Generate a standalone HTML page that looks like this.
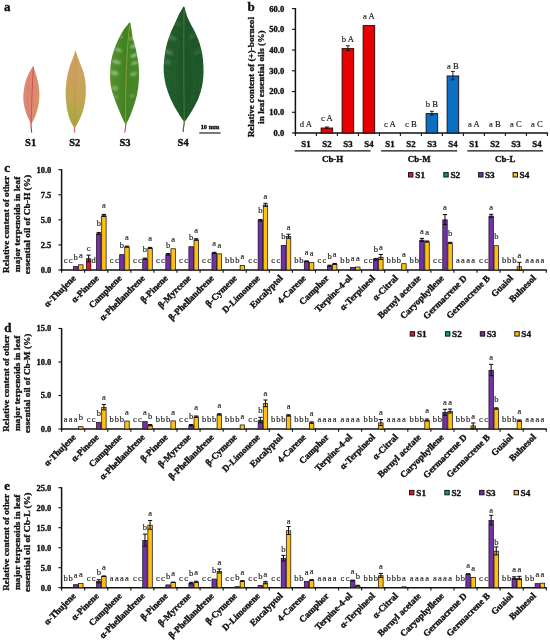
<!DOCTYPE html><html><head><meta charset="utf-8"><title>Figure</title><style>html,body{margin:0;padding:0;background:#fff}svg{display:block;filter:blur(0.35px);font-family:'Liberation Serif','Times New Roman',serif}</style></head><body>
<svg width="550" height="643" viewBox="0 0 550 643">
<rect width="550" height="643" fill="#fff"/>
<defs>
<linearGradient id="g1" x1="0" x2="1" y1="0" y2="0"><stop offset="0" stop-color="#d98a78"/><stop offset="0.45" stop-color="#de8572"/><stop offset="0.55" stop-color="#dd8a6c"/><stop offset="1" stop-color="#d49866"/></linearGradient>
<linearGradient id="g2" x1="0" x2="0" y1="0" y2="1"><stop offset="0" stop-color="#d2a05a"/><stop offset="0.35" stop-color="#c9a45c"/><stop offset="0.7" stop-color="#bfa650"/><stop offset="1" stop-color="#a8a83c"/></linearGradient>
<linearGradient id="g3" x1="0" x2="1" y1="0" y2="0"><stop offset="0" stop-color="#569230"/><stop offset="0.5" stop-color="#438322"/><stop offset="1" stop-color="#468828"/></linearGradient>
<linearGradient id="g4" x1="0" x2="1" y1="0" y2="0"><stop offset="0" stop-color="#246030"/><stop offset="0.5" stop-color="#1e5628"/><stop offset="1" stop-color="#205a2b"/></linearGradient>
<filter id="bl" x="-20%" y="-20%" width="140%" height="140%"><feGaussianBlur stdDeviation="1.1"/></filter>
<filter id="bl2" x="-20%" y="-20%" width="140%" height="140%"><feGaussianBlur stdDeviation="0.35"/></filter>
<clipPath id="cl1"><path d="M33.40,65.86 C33.75,66.40 34.08,68.72 34.55,70.27 C35.01,71.83 35.64,73.41 36.18,75.18 C36.73,76.96 37.36,78.86 37.82,80.91 C38.28,82.96 38.69,85.27 38.96,87.46 C39.24,89.64 39.43,91.82 39.46,94.00 C39.48,96.18 39.35,98.36 39.13,100.55 C38.91,102.73 38.64,104.91 38.15,107.09 C37.66,109.27 36.92,111.59 36.18,113.64 C35.45,115.68 34.60,117.65 33.73,119.37 C32.85,121.08 31.76,123.95 30.95,123.95 C30.13,123.95 29.58,121.08 28.82,119.37 C28.05,117.65 27.10,115.68 26.36,113.64 C25.63,111.59 24.89,109.27 24.40,107.09 C23.91,104.91 23.58,102.73 23.42,100.55 C23.25,98.36 23.28,96.18 23.42,94.00 C23.55,91.82 23.85,89.64 24.24,87.46 C24.62,85.27 25.08,82.96 25.71,80.91 C26.34,78.86 27.21,76.96 28.00,75.18 C28.79,73.41 29.72,71.64 30.45,70.27 C31.19,68.91 31.93,67.74 32.42,67.00 C32.91,66.26 33.05,65.31 33.40,65.86 Z"/></clipPath>
<clipPath id="cl2"><path d="M75.46,50.64 C76.06,50.77 76.66,54.32 77.42,56.36 C78.18,58.41 79.14,60.59 80.04,62.91 C80.94,65.23 82.03,67.82 82.82,70.27 C83.61,72.73 84.29,75.05 84.78,77.64 C85.27,80.23 85.60,83.09 85.77,85.82 C85.93,88.55 85.90,91.27 85.77,94.00 C85.63,96.73 85.38,99.46 84.95,102.18 C84.51,104.91 83.91,107.77 83.15,110.36 C82.38,112.96 81.37,115.41 80.36,117.73 C79.36,120.05 78.05,122.61 77.09,124.27 C76.14,125.94 75.46,127.71 74.64,127.71 C73.82,127.71 73.08,125.94 72.18,124.27 C71.28,122.61 70.06,120.05 69.24,117.73 C68.42,115.41 67.79,112.96 67.27,110.36 C66.76,107.77 66.40,104.91 66.13,102.18 C65.86,99.46 65.66,96.73 65.64,94.00 C65.61,91.27 65.75,88.55 65.96,85.82 C66.18,83.09 66.46,80.36 66.95,77.64 C67.44,74.91 68.17,72.05 68.91,69.46 C69.65,66.86 70.55,64.41 71.36,62.09 C72.18,59.77 73.14,57.45 73.82,55.55 C74.50,53.64 74.86,50.50 75.46,50.64 Z"/></clipPath>
<clipPath id="cl3"><path d="M129.85,22.54 C130.56,22.77 130.73,25.57 131.07,27.19 C131.41,28.80 131.57,30.39 131.88,32.24 C132.18,34.09 132.38,36.12 132.89,38.31 C133.39,40.50 134.24,42.69 134.91,45.38 C135.59,48.08 136.33,51.28 136.94,54.48 C137.54,57.68 138.22,61.22 138.55,64.59 C138.89,67.96 138.96,71.33 138.96,74.70 C138.96,78.07 138.89,81.44 138.55,84.81 C138.22,88.18 137.68,91.55 136.94,94.92 C136.19,98.29 135.18,101.66 134.10,105.03 C133.02,108.40 131.64,112.27 130.46,115.14 C129.28,118.00 127.80,120.66 127.02,122.21 C126.25,123.76 126.42,124.77 125.81,124.44 C125.20,124.10 124.46,122.41 123.38,120.19 C122.30,117.97 120.68,114.29 119.33,111.09 C117.99,107.89 116.54,104.35 115.29,100.98 C114.04,97.61 112.69,94.24 111.85,90.87 C111.01,87.50 110.50,84.13 110.23,80.76 C109.96,77.39 110.06,74.02 110.23,70.66 C110.40,67.29 110.64,63.92 111.24,60.55 C111.85,57.18 112.76,53.81 113.87,50.44 C114.98,47.07 116.43,43.53 117.92,40.33 C119.40,37.13 121.29,33.66 122.77,31.23 C124.26,28.80 125.64,27.22 126.82,25.77 C128.00,24.32 129.15,22.30 129.85,22.54 Z"/></clipPath>
<clipPath id="cl4"><path d="M183.99,6.53 C184.65,6.71 184.90,9.00 185.52,10.89 C186.14,12.77 186.79,15.60 187.70,17.85 C188.61,20.10 189.70,21.92 190.97,24.38 C192.24,26.85 193.87,29.47 195.33,32.66 C196.78,35.85 198.52,39.92 199.69,43.54 C200.85,47.17 201.68,50.80 202.30,54.43 C202.92,58.06 203.21,61.69 203.39,65.32 C203.57,68.95 203.65,72.57 203.39,76.20 C203.14,79.83 202.67,83.46 201.87,87.09 C201.07,90.72 200.05,94.35 198.60,97.98 C197.14,101.60 194.96,105.60 193.15,108.86 C191.33,112.13 189.15,115.47 187.70,117.57 C186.24,119.67 185.52,121.49 184.43,121.49 C183.34,121.49 182.61,119.67 181.16,117.57 C179.70,115.47 177.52,112.13 175.71,108.86 C173.89,105.60 171.82,101.60 170.26,97.98 C168.70,94.35 167.35,90.72 166.34,87.09 C165.32,83.46 164.59,79.83 164.16,76.20 C163.72,72.57 163.61,68.95 163.72,65.32 C163.83,61.69 164.26,58.06 164.81,54.43 C165.35,50.80 166.01,47.17 166.99,43.54 C167.97,39.92 169.42,35.92 170.69,32.66 C171.97,29.39 173.31,26.85 174.62,23.95 C175.93,21.05 177.38,17.60 178.54,15.24 C179.70,12.88 180.69,11.25 181.59,9.80 C182.50,8.35 183.34,6.35 183.99,6.53 Z"/></clipPath>
</defs>
<g filter="url(#bl2)">
<path d="M33.40,65.86 C33.75,66.40 34.08,68.72 34.55,70.27 C35.01,71.83 35.64,73.41 36.18,75.18 C36.73,76.96 37.36,78.86 37.82,80.91 C38.28,82.96 38.69,85.27 38.96,87.46 C39.24,89.64 39.43,91.82 39.46,94.00 C39.48,96.18 39.35,98.36 39.13,100.55 C38.91,102.73 38.64,104.91 38.15,107.09 C37.66,109.27 36.92,111.59 36.18,113.64 C35.45,115.68 34.60,117.65 33.73,119.37 C32.85,121.08 31.76,123.95 30.95,123.95 C30.13,123.95 29.58,121.08 28.82,119.37 C28.05,117.65 27.10,115.68 26.36,113.64 C25.63,111.59 24.89,109.27 24.40,107.09 C23.91,104.91 23.58,102.73 23.42,100.55 C23.25,98.36 23.28,96.18 23.42,94.00 C23.55,91.82 23.85,89.64 24.24,87.46 C24.62,85.27 25.08,82.96 25.71,80.91 C26.34,78.86 27.21,76.96 28.00,75.18 C28.79,73.41 29.72,71.64 30.45,70.27 C31.19,68.91 31.93,67.74 32.42,67.00 C32.91,66.26 33.05,65.31 33.40,65.86 Z" fill="url(#g1)"/>
<g clip-path="url(#cl1)">
<path d="M33.3,68 C32.4,85 31.4,105 31.2,124" fill="none" stroke="#d0485a" stroke-width="0.9"/>
<path d="M28.5,85 C26.8,98 27.5,112 30,120" fill="none" stroke="#d66a6c" stroke-width="0.5" opacity="0.7"/>
<path d="M35.5,80 C37.2,95 36,110 33,119" fill="none" stroke="#d6786a" stroke-width="0.5" opacity="0.6"/>
</g>
<path d="M31.1,123.4 C30.8,126 31.3,129.5 31.7,132.6" fill="none" stroke="#c6283e" stroke-width="1.1"/>
<path d="M75.46,50.64 C76.06,50.77 76.66,54.32 77.42,56.36 C78.18,58.41 79.14,60.59 80.04,62.91 C80.94,65.23 82.03,67.82 82.82,70.27 C83.61,72.73 84.29,75.05 84.78,77.64 C85.27,80.23 85.60,83.09 85.77,85.82 C85.93,88.55 85.90,91.27 85.77,94.00 C85.63,96.73 85.38,99.46 84.95,102.18 C84.51,104.91 83.91,107.77 83.15,110.36 C82.38,112.96 81.37,115.41 80.36,117.73 C79.36,120.05 78.05,122.61 77.09,124.27 C76.14,125.94 75.46,127.71 74.64,127.71 C73.82,127.71 73.08,125.94 72.18,124.27 C71.28,122.61 70.06,120.05 69.24,117.73 C68.42,115.41 67.79,112.96 67.27,110.36 C66.76,107.77 66.40,104.91 66.13,102.18 C65.86,99.46 65.66,96.73 65.64,94.00 C65.61,91.27 65.75,88.55 65.96,85.82 C66.18,83.09 66.46,80.36 66.95,77.64 C67.44,74.91 68.17,72.05 68.91,69.46 C69.65,66.86 70.55,64.41 71.36,62.09 C72.18,59.77 73.14,57.45 73.82,55.55 C74.50,53.64 74.86,50.50 75.46,50.64 Z" fill="url(#g2)"/>
<g clip-path="url(#cl2)">
<path d="M75.5,53 C75.6,80 75.2,105 74.7,127" fill="none" stroke="#cc8a50" stroke-width="0.7"/>
<ellipse cx="73" cy="76" rx="5" ry="14" fill="#d29a5c" opacity="0.5" filter="url(#bl)"/>
<ellipse cx="71" cy="114" rx="4" ry="10" fill="#a6ac3c" opacity="0.5" filter="url(#bl)"/>
</g>
<path d="M74.6,127 L74.6,132.6" fill="none" stroke="#cc5a48" stroke-width="1"/>
<path d="M129.85,22.54 C130.56,22.77 130.73,25.57 131.07,27.19 C131.41,28.80 131.57,30.39 131.88,32.24 C132.18,34.09 132.38,36.12 132.89,38.31 C133.39,40.50 134.24,42.69 134.91,45.38 C135.59,48.08 136.33,51.28 136.94,54.48 C137.54,57.68 138.22,61.22 138.55,64.59 C138.89,67.96 138.96,71.33 138.96,74.70 C138.96,78.07 138.89,81.44 138.55,84.81 C138.22,88.18 137.68,91.55 136.94,94.92 C136.19,98.29 135.18,101.66 134.10,105.03 C133.02,108.40 131.64,112.27 130.46,115.14 C129.28,118.00 127.80,120.66 127.02,122.21 C126.25,123.76 126.42,124.77 125.81,124.44 C125.20,124.10 124.46,122.41 123.38,120.19 C122.30,117.97 120.68,114.29 119.33,111.09 C117.99,107.89 116.54,104.35 115.29,100.98 C114.04,97.61 112.69,94.24 111.85,90.87 C111.01,87.50 110.50,84.13 110.23,80.76 C109.96,77.39 110.06,74.02 110.23,70.66 C110.40,67.29 110.64,63.92 111.24,60.55 C111.85,57.18 112.76,53.81 113.87,50.44 C114.98,47.07 116.43,43.53 117.92,40.33 C119.40,37.13 121.29,33.66 122.77,31.23 C124.26,28.80 125.64,27.22 126.82,25.77 C128.00,24.32 129.15,22.30 129.85,22.54 Z" fill="url(#g3)"/>
<g clip-path="url(#cl3)">
<ellipse cx="132.5" cy="38" rx="3.2" ry="1.5" transform="rotate(-25 132.5 38)" fill="#cfe3c4" opacity="0.55" filter="url(#bl)"/>
<ellipse cx="133.5" cy="46" rx="3.6" ry="1.6" transform="rotate(-25 133.5 46)" fill="#cfe3c4" opacity="0.6" filter="url(#bl)"/>
<ellipse cx="134" cy="55.5" rx="3.8" ry="1.7" transform="rotate(-22 134 55.5)" fill="#cfe3c4" opacity="0.6" filter="url(#bl)"/>
<ellipse cx="134.5" cy="63" rx="3.6" ry="1.6" transform="rotate(-20 134.5 63)" fill="#cfe3c4" opacity="0.55" filter="url(#bl)"/>
<ellipse cx="133.5" cy="74" rx="3.6" ry="1.8" transform="rotate(-20 133.5 74)" fill="#cfe3c4" opacity="0.5" filter="url(#bl)"/>
<ellipse cx="132" cy="96" rx="2.6" ry="1.8" transform="rotate(-20 132 96)" fill="#cfe3c4" opacity="0.3" filter="url(#bl)"/>
<ellipse cx="121" cy="36.5" rx="2.2" ry="1.3" transform="rotate(25 121 36.5)" fill="#cfe3c4" opacity="0.4" filter="url(#bl)"/>
<ellipse cx="118.5" cy="50" rx="3.6" ry="1.6" transform="rotate(20 118.5 50)" fill="#cfe3c4" opacity="0.55" filter="url(#bl)"/>
<ellipse cx="116.5" cy="62" rx="4.4" ry="1.8" transform="rotate(15 116.5 62)" fill="#cfe3c4" opacity="0.55" filter="url(#bl)"/>
<ellipse cx="114.5" cy="73" rx="4.0" ry="2.2" transform="rotate(10 114.5 73)" fill="#cfe3c4" opacity="0.5" filter="url(#bl)"/>
<ellipse cx="115" cy="88" rx="3.2" ry="2.6" transform="rotate(10 115 88)" fill="#cfe3c4" opacity="0.35" filter="url(#bl)"/>
<ellipse cx="116" cy="97" rx="2.4" ry="1.6" transform="rotate(10 116 97)" fill="#cfe3c4" opacity="0.3" filter="url(#bl)"/>
<path d="M129.6,26 C126.6,50 125.2,90 125.7,124" fill="none" stroke="#a8a848" stroke-width="0.7"/>
</g>
<path d="M125.8,123.6 C125.7,127 125.2,130 124.8,132.6" fill="none" stroke="#c0483c" stroke-width="1.1"/>
<path d="M183.99,6.53 C184.65,6.71 184.90,9.00 185.52,10.89 C186.14,12.77 186.79,15.60 187.70,17.85 C188.61,20.10 189.70,21.92 190.97,24.38 C192.24,26.85 193.87,29.47 195.33,32.66 C196.78,35.85 198.52,39.92 199.69,43.54 C200.85,47.17 201.68,50.80 202.30,54.43 C202.92,58.06 203.21,61.69 203.39,65.32 C203.57,68.95 203.65,72.57 203.39,76.20 C203.14,79.83 202.67,83.46 201.87,87.09 C201.07,90.72 200.05,94.35 198.60,97.98 C197.14,101.60 194.96,105.60 193.15,108.86 C191.33,112.13 189.15,115.47 187.70,117.57 C186.24,119.67 185.52,121.49 184.43,121.49 C183.34,121.49 182.61,119.67 181.16,117.57 C179.70,115.47 177.52,112.13 175.71,108.86 C173.89,105.60 171.82,101.60 170.26,97.98 C168.70,94.35 167.35,90.72 166.34,87.09 C165.32,83.46 164.59,79.83 164.16,76.20 C163.72,72.57 163.61,68.95 163.72,65.32 C163.83,61.69 164.26,58.06 164.81,54.43 C165.35,50.80 166.01,47.17 166.99,43.54 C167.97,39.92 169.42,35.92 170.69,32.66 C171.97,29.39 173.31,26.85 174.62,23.95 C175.93,21.05 177.38,17.60 178.54,15.24 C179.70,12.88 180.69,11.25 181.59,9.80 C182.50,8.35 183.34,6.35 183.99,6.53 Z" fill="url(#g4)"/>
<g clip-path="url(#cl4)">
<ellipse cx="172" cy="38" rx="5" ry="2.2" transform="rotate(30 172 38)" fill="#9fc0a0" opacity="0.28" filter="url(#bl)"/>
<ellipse cx="168.5" cy="52" rx="5" ry="2.6" transform="rotate(20 168.5 52)" fill="#9fc0a0" opacity="0.3" filter="url(#bl)"/>
<ellipse cx="167.5" cy="62" rx="4" ry="2.2" transform="rotate(10 167.5 62)" fill="#9fc0a0" opacity="0.25" filter="url(#bl)"/>
<ellipse cx="192" cy="36" rx="4" ry="1.8" transform="rotate(-30 192 36)" fill="#9fc0a0" opacity="0.18" filter="url(#bl)"/>
<ellipse cx="197" cy="52" rx="4" ry="2" transform="rotate(-25 197 52)" fill="#9fc0a0" opacity="0.16" filter="url(#bl)"/>
<ellipse cx="178" cy="24" rx="3" ry="1.6" transform="rotate(40 178 24)" fill="#9fc0a0" opacity="0.2" filter="url(#bl)"/>
<path d="M184,27 C190,24 197,21 206,17" fill="none" stroke="#1e4824" stroke-width="0.45" opacity="0.5"/>
<path d="M184,27 C178,24 171,21 162,17" fill="none" stroke="#1e4824" stroke-width="0.45" opacity="0.5"/>
<path d="M184,33 C190,30 197,27 206,23" fill="none" stroke="#1e4824" stroke-width="0.45" opacity="0.5"/>
<path d="M184,33 C178,30 171,27 162,23" fill="none" stroke="#1e4824" stroke-width="0.45" opacity="0.5"/>
<path d="M184,39 C190,36 197,33 206,29" fill="none" stroke="#1e4824" stroke-width="0.45" opacity="0.5"/>
<path d="M184,39 C178,36 171,33 162,29" fill="none" stroke="#1e4824" stroke-width="0.45" opacity="0.5"/>
<path d="M184,45 C190,42 197,39 206,35" fill="none" stroke="#1e4824" stroke-width="0.45" opacity="0.5"/>
<path d="M184,45 C178,42 171,39 162,35" fill="none" stroke="#1e4824" stroke-width="0.45" opacity="0.5"/>
<path d="M184,51 C190,48 197,45 206,41" fill="none" stroke="#1e4824" stroke-width="0.45" opacity="0.5"/>
<path d="M184,51 C178,48 171,45 162,41" fill="none" stroke="#1e4824" stroke-width="0.45" opacity="0.5"/>
<path d="M184,57 C190,54 197,51 206,47" fill="none" stroke="#1e4824" stroke-width="0.45" opacity="0.5"/>
<path d="M184,57 C178,54 171,51 162,47" fill="none" stroke="#1e4824" stroke-width="0.45" opacity="0.5"/>
<path d="M184,63 C190,60 197,57 206,53" fill="none" stroke="#1e4824" stroke-width="0.45" opacity="0.5"/>
<path d="M184,63 C178,60 171,57 162,53" fill="none" stroke="#1e4824" stroke-width="0.45" opacity="0.5"/>
<path d="M184,69 C190,66 197,63 206,59" fill="none" stroke="#1e4824" stroke-width="0.45" opacity="0.5"/>
<path d="M184,69 C178,66 171,63 162,59" fill="none" stroke="#1e4824" stroke-width="0.45" opacity="0.5"/>
<path d="M184,75 C190,72 197,69 206,65" fill="none" stroke="#1e4824" stroke-width="0.45" opacity="0.5"/>
<path d="M184,75 C178,72 171,69 162,65" fill="none" stroke="#1e4824" stroke-width="0.45" opacity="0.5"/>
<path d="M184,81 C190,78 197,75 206,71" fill="none" stroke="#1e4824" stroke-width="0.45" opacity="0.5"/>
<path d="M184,81 C178,78 171,75 162,71" fill="none" stroke="#1e4824" stroke-width="0.45" opacity="0.5"/>
<path d="M184,87 C190,84 197,81 206,77" fill="none" stroke="#1e4824" stroke-width="0.45" opacity="0.5"/>
<path d="M184,87 C178,84 171,81 162,77" fill="none" stroke="#1e4824" stroke-width="0.45" opacity="0.5"/>
<path d="M184,93 C190,90 197,87 206,83" fill="none" stroke="#1e4824" stroke-width="0.45" opacity="0.5"/>
<path d="M184,93 C178,90 171,87 162,83" fill="none" stroke="#1e4824" stroke-width="0.45" opacity="0.5"/>
<path d="M184,99 C190,96 197,93 206,89" fill="none" stroke="#1e4824" stroke-width="0.45" opacity="0.5"/>
<path d="M184,99 C178,96 171,93 162,89" fill="none" stroke="#1e4824" stroke-width="0.45" opacity="0.5"/>
<path d="M184,105 C190,102 197,99 206,95" fill="none" stroke="#1e4824" stroke-width="0.45" opacity="0.5"/>
<path d="M184,105 C178,102 171,99 162,95" fill="none" stroke="#1e4824" stroke-width="0.45" opacity="0.5"/>
<path d="M184,111 C190,108 197,105 206,101" fill="none" stroke="#1e4824" stroke-width="0.45" opacity="0.5"/>
<path d="M184,111 C178,108 171,105 162,101" fill="none" stroke="#1e4824" stroke-width="0.45" opacity="0.5"/>
<path d="M184,117 C190,114 197,111 206,107" fill="none" stroke="#1e4824" stroke-width="0.45" opacity="0.5"/>
<path d="M184,117 C178,114 171,111 162,107" fill="none" stroke="#1e4824" stroke-width="0.45" opacity="0.5"/>
<path d="M184,10 C183.6,50 183.8,90 184.3,121" fill="none" stroke="#748c44" stroke-width="0.6"/>
<path d="M180,40 C172,70 173,100 183.6,119" fill="none" stroke="#4e7a40" stroke-width="0.4" opacity="0.5"/>
<path d="M188,40 C197,70 196,100 185,119" fill="none" stroke="#4e7a40" stroke-width="0.4" opacity="0.5"/>
</g>
<path d="M184.3,120.6 C184.6,125 182.6,128 183.4,132" fill="none" stroke="#5c6a34" stroke-width="1.3"/>
</g>
<text x="30.60" y="146.30" font-size="10.5" font-weight="bold" text-anchor="middle" fill="#111" stroke="#111" stroke-width="0.36" >S1</text>
<text x="74.70" y="146.30" font-size="10.5" font-weight="bold" text-anchor="middle" fill="#111" stroke="#111" stroke-width="0.36" >S2</text>
<text x="125.00" y="146.30" font-size="10.5" font-weight="bold" text-anchor="middle" fill="#111" stroke="#111" stroke-width="0.36" >S3</text>
<text x="183.10" y="146.30" font-size="10.5" font-weight="bold" text-anchor="middle" fill="#111" stroke="#111" stroke-width="0.36" >S4</text>
<line x1="199.30" y1="133.00" x2="220.60" y2="133.00" stroke="#222" stroke-width="1.2"/>
<text x="210.00" y="128.70" font-size="6.4" font-weight="bold" text-anchor="middle" fill="#111" stroke="#111" stroke-width="0.36" >10 mm</text>
<text x="4.00" y="11.30" font-size="13" font-weight="bold" text-anchor="start" fill="#111" stroke="#111" stroke-width="0.36" >a</text>
<text x="247.60" y="11.30" font-size="13" font-weight="bold" text-anchor="start" fill="#111" stroke="#111" stroke-width="0.36" >b</text>
<line x1="295.40" y1="8.00" x2="295.40" y2="133.75" stroke="#111" stroke-width="1.5"/>
<line x1="294.65" y1="133.00" x2="547.90" y2="133.00" stroke="#111" stroke-width="1.5"/>
<line x1="292.00" y1="133.00" x2="295.40" y2="133.00" stroke="#111" stroke-width="1.1"/>
<text x="284.20" y="135.90" font-size="8.5" font-weight="bold" text-anchor="end" fill="#111" stroke="#111" stroke-width="0.36" >0.0</text>
<line x1="292.00" y1="112.27" x2="295.40" y2="112.27" stroke="#111" stroke-width="1.1"/>
<text x="284.20" y="115.17" font-size="8.5" font-weight="bold" text-anchor="end" fill="#111" stroke="#111" stroke-width="0.36" >10.0</text>
<line x1="292.00" y1="91.53" x2="295.40" y2="91.53" stroke="#111" stroke-width="1.1"/>
<text x="284.20" y="94.43" font-size="8.5" font-weight="bold" text-anchor="end" fill="#111" stroke="#111" stroke-width="0.36" >20.0</text>
<line x1="292.00" y1="70.80" x2="295.40" y2="70.80" stroke="#111" stroke-width="1.1"/>
<text x="284.20" y="73.70" font-size="8.5" font-weight="bold" text-anchor="end" fill="#111" stroke="#111" stroke-width="0.36" >30.0</text>
<line x1="292.00" y1="50.07" x2="295.40" y2="50.07" stroke="#111" stroke-width="1.1"/>
<text x="284.20" y="52.97" font-size="8.5" font-weight="bold" text-anchor="end" fill="#111" stroke="#111" stroke-width="0.36" >40.0</text>
<line x1="292.00" y1="29.33" x2="295.40" y2="29.33" stroke="#111" stroke-width="1.1"/>
<text x="284.20" y="32.23" font-size="8.5" font-weight="bold" text-anchor="end" fill="#111" stroke="#111" stroke-width="0.36" >50.0</text>
<line x1="292.00" y1="8.60" x2="295.40" y2="8.60" stroke="#111" stroke-width="1.1"/>
<text x="284.20" y="11.50" font-size="8.5" font-weight="bold" text-anchor="end" fill="#111" stroke="#111" stroke-width="0.36" >60.0</text>
<line x1="316.40" y1="133.00" x2="316.40" y2="135.90" stroke="#111" stroke-width="1.1"/>
<line x1="337.40" y1="133.00" x2="337.40" y2="135.90" stroke="#111" stroke-width="1.1"/>
<line x1="358.40" y1="133.00" x2="358.40" y2="135.90" stroke="#111" stroke-width="1.1"/>
<line x1="379.40" y1="133.00" x2="379.40" y2="135.90" stroke="#111" stroke-width="1.1"/>
<line x1="400.40" y1="133.00" x2="400.40" y2="135.90" stroke="#111" stroke-width="1.1"/>
<line x1="421.40" y1="133.00" x2="421.40" y2="135.90" stroke="#111" stroke-width="1.1"/>
<line x1="442.40" y1="133.00" x2="442.40" y2="135.90" stroke="#111" stroke-width="1.1"/>
<line x1="463.40" y1="133.00" x2="463.40" y2="135.90" stroke="#111" stroke-width="1.1"/>
<line x1="484.40" y1="133.00" x2="484.40" y2="135.90" stroke="#111" stroke-width="1.1"/>
<line x1="505.40" y1="133.00" x2="505.40" y2="135.90" stroke="#111" stroke-width="1.1"/>
<line x1="526.40" y1="133.00" x2="526.40" y2="135.90" stroke="#111" stroke-width="1.1"/>
<line x1="547.40" y1="133.00" x2="547.40" y2="135.90" stroke="#111" stroke-width="1.1"/>
<line x1="295.40" y1="133.00" x2="295.40" y2="135.90" stroke="#111" stroke-width="1.1"/>
<text transform="translate(253.70,77.20) rotate(-90)" font-size="9.25" font-weight="bold" text-anchor="middle" textLength="120.3" lengthAdjust="spacingAndGlyphs" fill="#111" stroke="#111" stroke-width="0.32">Relative content of (+)-borneol</text>
<text transform="translate(264.30,77.20) rotate(-90)" font-size="9.25" font-weight="bold" text-anchor="middle" textLength="93.4" lengthAdjust="spacingAndGlyphs" fill="#111" stroke="#111" stroke-width="0.32">in leaf essential oils (%)</text>
<text x="305.90" y="126.90" font-size="8.6" font-weight="normal" text-anchor="middle" fill="#1a1a1a" stroke="#1a1a1a" stroke-width="0.15" >d A</text>
<text x="305.90" y="146.80" font-size="8.8" font-weight="bold" text-anchor="middle" fill="#111" stroke="#111" stroke-width="0.36" >S1</text>
<rect x="321.10" y="128.01" width="11.60" height="4.99" fill="#e60000" stroke="#1c0a06" stroke-width="0.9"/>
<line x1="326.90" y1="126.99" x2="326.90" y2="128.23" stroke="#111" stroke-width="0.9"/>
<line x1="324.90" y1="126.99" x2="328.90" y2="126.99" stroke="#111" stroke-width="0.9"/>
<line x1="324.90" y1="128.23" x2="328.90" y2="128.23" stroke="#111" stroke-width="0.9"/>
<text x="326.90" y="120.99" font-size="8.6" font-weight="normal" text-anchor="middle" fill="#1a1a1a" stroke="#1a1a1a" stroke-width="0.15" >c A</text>
<text x="326.90" y="146.80" font-size="8.8" font-weight="bold" text-anchor="middle" fill="#111" stroke="#111" stroke-width="0.36" >S2</text>
<rect x="342.10" y="48.60" width="11.60" height="84.40" fill="#e60000" stroke="#1c0a06" stroke-width="0.9"/>
<line x1="347.90" y1="45.82" x2="347.90" y2="50.59" stroke="#111" stroke-width="0.9"/>
<line x1="345.90" y1="45.82" x2="349.90" y2="45.82" stroke="#111" stroke-width="0.9"/>
<line x1="345.90" y1="50.59" x2="349.90" y2="50.59" stroke="#111" stroke-width="0.9"/>
<text x="347.90" y="41.72" font-size="8.6" font-weight="normal" text-anchor="middle" fill="#1a1a1a" stroke="#1a1a1a" stroke-width="0.15" >b A</text>
<text x="347.90" y="146.80" font-size="8.8" font-weight="bold" text-anchor="middle" fill="#111" stroke="#111" stroke-width="0.36" >S3</text>
<rect x="363.10" y="25.59" width="11.60" height="107.41" fill="#e60000" stroke="#1c0a06" stroke-width="0.9"/>
<text x="368.90" y="19.19" font-size="8.6" font-weight="normal" text-anchor="middle" fill="#1a1a1a" stroke="#1a1a1a" stroke-width="0.15" >a A</text>
<text x="368.90" y="146.80" font-size="8.8" font-weight="bold" text-anchor="middle" fill="#111" stroke="#111" stroke-width="0.36" >S4</text>
<text x="389.90" y="126.90" font-size="8.6" font-weight="normal" text-anchor="middle" fill="#1a1a1a" stroke="#1a1a1a" stroke-width="0.15" >c A</text>
<text x="389.90" y="146.80" font-size="8.8" font-weight="bold" text-anchor="middle" fill="#111" stroke="#111" stroke-width="0.36" >S1</text>
<text x="410.90" y="126.90" font-size="8.6" font-weight="normal" text-anchor="middle" fill="#1a1a1a" stroke="#1a1a1a" stroke-width="0.15" >c B</text>
<text x="410.90" y="146.80" font-size="8.8" font-weight="bold" text-anchor="middle" fill="#111" stroke="#111" stroke-width="0.36" >S2</text>
<rect x="426.10" y="113.60" width="11.60" height="19.40" fill="#0b70c4" stroke="#1c0a06" stroke-width="0.9"/>
<line x1="431.90" y1="111.33" x2="431.90" y2="115.07" stroke="#111" stroke-width="0.9"/>
<line x1="429.90" y1="111.33" x2="433.90" y2="111.33" stroke="#111" stroke-width="0.9"/>
<line x1="429.90" y1="115.07" x2="433.90" y2="115.07" stroke="#111" stroke-width="0.9"/>
<text x="431.90" y="106.73" font-size="8.6" font-weight="normal" text-anchor="middle" fill="#1a1a1a" stroke="#1a1a1a" stroke-width="0.15" >b B</text>
<text x="431.90" y="146.80" font-size="8.8" font-weight="bold" text-anchor="middle" fill="#111" stroke="#111" stroke-width="0.36" >S3</text>
<rect x="447.10" y="75.97" width="11.60" height="57.03" fill="#0b70c4" stroke="#1c0a06" stroke-width="0.9"/>
<line x1="452.90" y1="71.42" x2="452.90" y2="79.72" stroke="#111" stroke-width="0.9"/>
<line x1="450.90" y1="71.42" x2="454.90" y2="71.42" stroke="#111" stroke-width="0.9"/>
<line x1="450.90" y1="79.72" x2="454.90" y2="79.72" stroke="#111" stroke-width="0.9"/>
<text x="452.90" y="69.22" font-size="8.6" font-weight="normal" text-anchor="middle" fill="#1a1a1a" stroke="#1a1a1a" stroke-width="0.15" >a B</text>
<text x="452.90" y="146.80" font-size="8.8" font-weight="bold" text-anchor="middle" fill="#111" stroke="#111" stroke-width="0.36" >S4</text>
<text x="473.90" y="126.90" font-size="8.6" font-weight="normal" text-anchor="middle" fill="#1a1a1a" stroke="#1a1a1a" stroke-width="0.15" >a A</text>
<text x="473.90" y="146.80" font-size="8.8" font-weight="bold" text-anchor="middle" fill="#111" stroke="#111" stroke-width="0.36" >S1</text>
<text x="494.90" y="126.90" font-size="8.6" font-weight="normal" text-anchor="middle" fill="#1a1a1a" stroke="#1a1a1a" stroke-width="0.15" >a B</text>
<text x="494.90" y="146.80" font-size="8.8" font-weight="bold" text-anchor="middle" fill="#111" stroke="#111" stroke-width="0.36" >S2</text>
<text x="515.90" y="126.90" font-size="8.6" font-weight="normal" text-anchor="middle" fill="#1a1a1a" stroke="#1a1a1a" stroke-width="0.15" >a C</text>
<text x="515.90" y="146.80" font-size="8.8" font-weight="bold" text-anchor="middle" fill="#111" stroke="#111" stroke-width="0.36" >S3</text>
<text x="536.90" y="126.90" font-size="8.6" font-weight="normal" text-anchor="middle" fill="#1a1a1a" stroke="#1a1a1a" stroke-width="0.15" >a C</text>
<text x="536.90" y="146.80" font-size="8.8" font-weight="bold" text-anchor="middle" fill="#111" stroke="#111" stroke-width="0.36" >S4</text>
<line x1="294.70" y1="150.90" x2="370.50" y2="150.90" stroke="#111" stroke-width="1.2"/>
<line x1="381.10" y1="150.90" x2="457.20" y2="150.90" stroke="#111" stroke-width="1.2"/>
<line x1="467.30" y1="150.90" x2="543.10" y2="150.90" stroke="#111" stroke-width="1.2"/>
<text x="332.60" y="161.60" font-size="8.9" font-weight="bold" text-anchor="middle" fill="#111" stroke="#111" stroke-width="0.36" >Cb-H</text>
<text x="419.20" y="161.60" font-size="8.9" font-weight="bold" text-anchor="middle" fill="#111" stroke="#111" stroke-width="0.36" >Cb-M</text>
<text x="505.20" y="161.60" font-size="8.9" font-weight="bold" text-anchor="middle" fill="#111" stroke="#111" stroke-width="0.36" >Cb-L</text>
<text x="4.30" y="171.50" font-size="13" font-weight="bold" text-anchor="start" fill="#111" stroke="#111" stroke-width="0.36" >c</text>
<line x1="61.60" y1="169.10" x2="61.60" y2="270.75" stroke="#111" stroke-width="1.5"/>
<line x1="60.85" y1="270.00" x2="546.78" y2="270.00" stroke="#111" stroke-width="1.5"/>
<line x1="58.40" y1="270.00" x2="61.60" y2="270.00" stroke="#111" stroke-width="1.1"/>
<text x="51.30" y="272.90" font-size="8.5" font-weight="bold" text-anchor="end" fill="#111" stroke="#111" stroke-width="0.36" >0.0</text>
<line x1="58.40" y1="244.93" x2="61.60" y2="244.93" stroke="#111" stroke-width="1.1"/>
<text x="51.30" y="247.83" font-size="8.5" font-weight="bold" text-anchor="end" fill="#111" stroke="#111" stroke-width="0.36" >2.5</text>
<line x1="58.40" y1="219.85" x2="61.60" y2="219.85" stroke="#111" stroke-width="1.1"/>
<text x="51.30" y="222.75" font-size="8.5" font-weight="bold" text-anchor="end" fill="#111" stroke="#111" stroke-width="0.36" >5.0</text>
<line x1="58.40" y1="194.77" x2="61.60" y2="194.77" stroke="#111" stroke-width="1.1"/>
<text x="51.30" y="197.67" font-size="8.5" font-weight="bold" text-anchor="end" fill="#111" stroke="#111" stroke-width="0.36" >7.5</text>
<line x1="58.40" y1="169.70" x2="61.60" y2="169.70" stroke="#111" stroke-width="1.1"/>
<text x="51.30" y="172.60" font-size="8.5" font-weight="bold" text-anchor="end" fill="#111" stroke="#111" stroke-width="0.36" >10.0</text>
<line x1="61.60" y1="270.00" x2="61.60" y2="272.70" stroke="#111" stroke-width="1.1"/>
<line x1="84.68" y1="270.00" x2="84.68" y2="272.70" stroke="#111" stroke-width="1.1"/>
<line x1="107.76" y1="270.00" x2="107.76" y2="272.70" stroke="#111" stroke-width="1.1"/>
<line x1="130.84" y1="270.00" x2="130.84" y2="272.70" stroke="#111" stroke-width="1.1"/>
<line x1="153.92" y1="270.00" x2="153.92" y2="272.70" stroke="#111" stroke-width="1.1"/>
<line x1="177.00" y1="270.00" x2="177.00" y2="272.70" stroke="#111" stroke-width="1.1"/>
<line x1="200.08" y1="270.00" x2="200.08" y2="272.70" stroke="#111" stroke-width="1.1"/>
<line x1="223.16" y1="270.00" x2="223.16" y2="272.70" stroke="#111" stroke-width="1.1"/>
<line x1="246.24" y1="270.00" x2="246.24" y2="272.70" stroke="#111" stroke-width="1.1"/>
<line x1="269.32" y1="270.00" x2="269.32" y2="272.70" stroke="#111" stroke-width="1.1"/>
<line x1="292.40" y1="270.00" x2="292.40" y2="272.70" stroke="#111" stroke-width="1.1"/>
<line x1="315.48" y1="270.00" x2="315.48" y2="272.70" stroke="#111" stroke-width="1.1"/>
<line x1="338.56" y1="270.00" x2="338.56" y2="272.70" stroke="#111" stroke-width="1.1"/>
<line x1="361.64" y1="270.00" x2="361.64" y2="272.70" stroke="#111" stroke-width="1.1"/>
<line x1="384.72" y1="270.00" x2="384.72" y2="272.70" stroke="#111" stroke-width="1.1"/>
<line x1="407.80" y1="270.00" x2="407.80" y2="272.70" stroke="#111" stroke-width="1.1"/>
<line x1="430.88" y1="270.00" x2="430.88" y2="272.70" stroke="#111" stroke-width="1.1"/>
<line x1="453.96" y1="270.00" x2="453.96" y2="272.70" stroke="#111" stroke-width="1.1"/>
<line x1="477.04" y1="270.00" x2="477.04" y2="272.70" stroke="#111" stroke-width="1.1"/>
<line x1="500.12" y1="270.00" x2="500.12" y2="272.70" stroke="#111" stroke-width="1.1"/>
<line x1="523.20" y1="270.00" x2="523.20" y2="272.70" stroke="#111" stroke-width="1.1"/>
<line x1="546.28" y1="270.00" x2="546.28" y2="272.70" stroke="#111" stroke-width="1.1"/>
<text transform="translate(9.30,224.45) rotate(-90)" font-size="9.25" font-weight="bold" text-anchor="middle" textLength="97.0" lengthAdjust="spacingAndGlyphs" fill="#111" stroke="#111" stroke-width="0.32">Relative content of other</text>
<text transform="translate(19.70,224.45) rotate(-90)" font-size="9.25" font-weight="bold" text-anchor="middle" textLength="95.4" lengthAdjust="spacingAndGlyphs" fill="#111" stroke="#111" stroke-width="0.32">major terpenoids in leaf</text>
<text transform="translate(30.10,224.45) rotate(-90)" font-size="9.25" font-weight="bold" text-anchor="middle" textLength="99.4" lengthAdjust="spacingAndGlyphs" fill="#111" stroke="#111" stroke-width="0.32">essential oil of Cb-H (%)</text>
<text x="65.53" y="263.20" font-size="8.5" font-weight="normal" text-anchor="middle" fill="#1a1a1a" stroke="#1a1a1a" stroke-width="0.15" >c</text>
<text x="70.62" y="263.20" font-size="8.5" font-weight="normal" text-anchor="middle" fill="#1a1a1a" stroke="#1a1a1a" stroke-width="0.15" >c</text>
<rect x="73.50" y="266.59" width="4.45" height="3.41" fill="#7232a4" stroke="#1a1020" stroke-width="0.75"/>
<text x="75.73" y="260.29" font-size="8.5" font-weight="normal" text-anchor="middle" fill="#1a1a1a" stroke="#1a1a1a" stroke-width="0.15" >b</text>
<rect x="78.60" y="264.78" width="4.45" height="5.22" fill="#ffc20a" stroke="#1a1020" stroke-width="0.75"/>
<text x="80.83" y="258.48" font-size="8.5" font-weight="normal" text-anchor="middle" fill="#1a1a1a" stroke="#1a1a1a" stroke-width="0.15" >a</text>
<text transform="translate(76.34,278.80) rotate(-45)" font-size="9.2" font-weight="bold" text-anchor="end" fill="#111" stroke="#111" stroke-width="0.36">α-Thujene</text>
<rect x="86.38" y="258.77" width="4.45" height="11.23" fill="#e8141c" stroke="#1a1020" stroke-width="0.75"/>
<line x1="88.61" y1="255.16" x2="88.61" y2="261.78" stroke="#111" stroke-width="1.05"/>
<line x1="86.51" y1="255.16" x2="90.71" y2="255.16" stroke="#111" stroke-width="1.05"/>
<line x1="86.51" y1="261.78" x2="90.71" y2="261.78" stroke="#111" stroke-width="1.05"/>
<text x="88.61" y="250.76" font-size="8.5" font-weight="normal" text-anchor="middle" fill="#1a1a1a" stroke="#1a1a1a" stroke-width="0.15" >c</text>
<text x="93.71" y="263.20" font-size="8.5" font-weight="normal" text-anchor="middle" fill="#1a1a1a" stroke="#1a1a1a" stroke-width="0.15" >d</text>
<rect x="96.58" y="233.79" width="4.45" height="36.21" fill="#7232a4" stroke="#1a1020" stroke-width="0.75"/>
<line x1="98.81" y1="232.49" x2="98.81" y2="234.49" stroke="#111" stroke-width="1.05"/>
<line x1="96.71" y1="232.49" x2="100.91" y2="232.49" stroke="#111" stroke-width="1.05"/>
<line x1="96.71" y1="234.49" x2="100.91" y2="234.49" stroke="#111" stroke-width="1.05"/>
<text x="98.81" y="226.49" font-size="8.5" font-weight="normal" text-anchor="middle" fill="#1a1a1a" stroke="#1a1a1a" stroke-width="0.15" >b</text>
<rect x="101.68" y="215.74" width="4.45" height="54.26" fill="#ffc20a" stroke="#1a1020" stroke-width="0.75"/>
<line x1="103.91" y1="214.43" x2="103.91" y2="216.44" stroke="#111" stroke-width="1.05"/>
<line x1="101.81" y1="214.43" x2="106.01" y2="214.43" stroke="#111" stroke-width="1.05"/>
<line x1="101.81" y1="216.44" x2="106.01" y2="216.44" stroke="#111" stroke-width="1.05"/>
<text x="103.91" y="208.43" font-size="8.5" font-weight="normal" text-anchor="middle" fill="#1a1a1a" stroke="#1a1a1a" stroke-width="0.15" >a</text>
<text transform="translate(99.35,278.80) rotate(-45)" font-size="9.2" font-weight="bold" text-anchor="end" fill="#111" stroke="#111" stroke-width="0.36">α-Pinene</text>
<text x="111.69" y="263.20" font-size="8.5" font-weight="normal" text-anchor="middle" fill="#1a1a1a" stroke="#1a1a1a" stroke-width="0.15" >c</text>
<text x="116.78" y="263.20" font-size="8.5" font-weight="normal" text-anchor="middle" fill="#1a1a1a" stroke="#1a1a1a" stroke-width="0.15" >c</text>
<rect x="119.66" y="254.65" width="4.45" height="15.35" fill="#7232a4" stroke="#1a1020" stroke-width="0.75"/>
<text x="121.89" y="248.35" font-size="8.5" font-weight="normal" text-anchor="middle" fill="#1a1a1a" stroke="#1a1a1a" stroke-width="0.15" >b</text>
<rect x="124.76" y="246.93" width="4.45" height="23.07" fill="#ffc20a" stroke="#1a1020" stroke-width="0.75"/>
<line x1="126.98" y1="246.13" x2="126.98" y2="247.13" stroke="#111" stroke-width="1.05"/>
<line x1="124.89" y1="246.13" x2="129.09" y2="246.13" stroke="#111" stroke-width="1.05"/>
<line x1="124.89" y1="247.13" x2="129.09" y2="247.13" stroke="#111" stroke-width="1.05"/>
<text x="126.98" y="240.13" font-size="8.5" font-weight="normal" text-anchor="middle" fill="#1a1a1a" stroke="#1a1a1a" stroke-width="0.15" >a</text>
<text transform="translate(122.36,278.80) rotate(-45)" font-size="9.2" font-weight="bold" text-anchor="end" fill="#111" stroke="#111" stroke-width="0.36">Camphene</text>
<text x="134.77" y="263.20" font-size="8.5" font-weight="normal" text-anchor="middle" fill="#1a1a1a" stroke="#1a1a1a" stroke-width="0.15" >c</text>
<text x="139.87" y="263.20" font-size="8.5" font-weight="normal" text-anchor="middle" fill="#1a1a1a" stroke="#1a1a1a" stroke-width="0.15" >c</text>
<rect x="142.74" y="258.97" width="4.45" height="11.03" fill="#7232a4" stroke="#1a1020" stroke-width="0.75"/>
<line x1="144.97" y1="258.16" x2="144.97" y2="259.17" stroke="#111" stroke-width="1.05"/>
<line x1="142.87" y1="258.16" x2="147.06" y2="258.16" stroke="#111" stroke-width="1.05"/>
<line x1="142.87" y1="259.17" x2="147.06" y2="259.17" stroke="#111" stroke-width="1.05"/>
<text x="144.97" y="252.16" font-size="8.5" font-weight="normal" text-anchor="middle" fill="#1a1a1a" stroke="#1a1a1a" stroke-width="0.15" >b</text>
<rect x="147.84" y="248.23" width="4.45" height="21.77" fill="#ffc20a" stroke="#1a1020" stroke-width="0.75"/>
<line x1="150.07" y1="247.43" x2="150.07" y2="248.44" stroke="#111" stroke-width="1.05"/>
<line x1="147.97" y1="247.43" x2="152.17" y2="247.43" stroke="#111" stroke-width="1.05"/>
<line x1="147.97" y1="248.44" x2="152.17" y2="248.44" stroke="#111" stroke-width="1.05"/>
<text x="150.07" y="241.43" font-size="8.5" font-weight="normal" text-anchor="middle" fill="#1a1a1a" stroke="#1a1a1a" stroke-width="0.15" >a</text>
<text transform="translate(145.37,278.80) rotate(-45)" font-size="9.2" font-weight="bold" text-anchor="end" fill="#111" stroke="#111" stroke-width="0.36">α-Phellandrene</text>
<text x="157.84" y="263.20" font-size="8.5" font-weight="normal" text-anchor="middle" fill="#1a1a1a" stroke="#1a1a1a" stroke-width="0.15" >c</text>
<text x="162.94" y="263.20" font-size="8.5" font-weight="normal" text-anchor="middle" fill="#1a1a1a" stroke="#1a1a1a" stroke-width="0.15" >c</text>
<rect x="165.82" y="254.65" width="4.45" height="15.35" fill="#7232a4" stroke="#1a1020" stroke-width="0.75"/>
<line x1="168.04" y1="253.55" x2="168.04" y2="255.16" stroke="#111" stroke-width="1.05"/>
<line x1="165.94" y1="253.55" x2="170.14" y2="253.55" stroke="#111" stroke-width="1.05"/>
<line x1="165.94" y1="255.16" x2="170.14" y2="255.16" stroke="#111" stroke-width="1.05"/>
<text x="168.04" y="247.55" font-size="8.5" font-weight="normal" text-anchor="middle" fill="#1a1a1a" stroke="#1a1a1a" stroke-width="0.15" >b</text>
<rect x="170.92" y="248.74" width="4.45" height="21.26" fill="#ffc20a" stroke="#1a1020" stroke-width="0.75"/>
<text x="173.15" y="242.44" font-size="8.5" font-weight="normal" text-anchor="middle" fill="#1a1a1a" stroke="#1a1a1a" stroke-width="0.15" >a</text>
<text transform="translate(168.38,278.80) rotate(-45)" font-size="9.2" font-weight="bold" text-anchor="end" fill="#111" stroke="#111" stroke-width="0.36">β-Pinene</text>
<text x="180.93" y="263.20" font-size="8.5" font-weight="normal" text-anchor="middle" fill="#1a1a1a" stroke="#1a1a1a" stroke-width="0.15" >c</text>
<text x="186.03" y="263.20" font-size="8.5" font-weight="normal" text-anchor="middle" fill="#1a1a1a" stroke="#1a1a1a" stroke-width="0.15" >c</text>
<rect x="188.90" y="246.73" width="4.45" height="23.27" fill="#7232a4" stroke="#1a1020" stroke-width="0.75"/>
<text x="191.12" y="240.43" font-size="8.5" font-weight="normal" text-anchor="middle" fill="#1a1a1a" stroke="#1a1a1a" stroke-width="0.15" >b</text>
<rect x="194.00" y="239.81" width="4.45" height="30.19" fill="#ffc20a" stroke="#1a1020" stroke-width="0.75"/>
<line x1="196.23" y1="238.71" x2="196.23" y2="240.31" stroke="#111" stroke-width="1.05"/>
<line x1="194.13" y1="238.71" x2="198.33" y2="238.71" stroke="#111" stroke-width="1.05"/>
<line x1="194.13" y1="240.31" x2="198.33" y2="240.31" stroke="#111" stroke-width="1.05"/>
<text x="196.23" y="232.71" font-size="8.5" font-weight="normal" text-anchor="middle" fill="#1a1a1a" stroke="#1a1a1a" stroke-width="0.15" >a</text>
<text transform="translate(191.39,278.80) rotate(-45)" font-size="9.2" font-weight="bold" text-anchor="end" fill="#111" stroke="#111" stroke-width="0.36">β-Myrcene</text>
<text x="204.00" y="263.20" font-size="8.5" font-weight="normal" text-anchor="middle" fill="#1a1a1a" stroke="#1a1a1a" stroke-width="0.15" >c</text>
<text x="209.10" y="263.20" font-size="8.5" font-weight="normal" text-anchor="middle" fill="#1a1a1a" stroke="#1a1a1a" stroke-width="0.15" >c</text>
<rect x="211.98" y="253.15" width="4.45" height="16.85" fill="#7232a4" stroke="#1a1020" stroke-width="0.75"/>
<line x1="214.20" y1="252.35" x2="214.20" y2="253.35" stroke="#111" stroke-width="1.05"/>
<line x1="212.10" y1="252.35" x2="216.30" y2="252.35" stroke="#111" stroke-width="1.05"/>
<line x1="212.10" y1="253.35" x2="216.30" y2="253.35" stroke="#111" stroke-width="1.05"/>
<text x="214.20" y="246.35" font-size="8.5" font-weight="normal" text-anchor="middle" fill="#1a1a1a" stroke="#1a1a1a" stroke-width="0.15" >a</text>
<rect x="217.08" y="253.85" width="4.45" height="16.15" fill="#ffc20a" stroke="#1a1020" stroke-width="0.75"/>
<text x="219.31" y="247.55" font-size="8.5" font-weight="normal" text-anchor="middle" fill="#1a1a1a" stroke="#1a1a1a" stroke-width="0.15" >a</text>
<text transform="translate(214.40,278.80) rotate(-45)" font-size="9.2" font-weight="bold" text-anchor="end" fill="#111" stroke="#111" stroke-width="0.36">β-Phellandrene</text>
<text x="227.09" y="263.20" font-size="8.5" font-weight="normal" text-anchor="middle" fill="#1a1a1a" stroke="#1a1a1a" stroke-width="0.15" >b</text>
<text x="232.19" y="263.20" font-size="8.5" font-weight="normal" text-anchor="middle" fill="#1a1a1a" stroke="#1a1a1a" stroke-width="0.15" >b</text>
<text x="237.28" y="263.20" font-size="8.5" font-weight="normal" text-anchor="middle" fill="#1a1a1a" stroke="#1a1a1a" stroke-width="0.15" >b</text>
<rect x="240.16" y="265.39" width="4.45" height="4.61" fill="#ffc20a" stroke="#1a1020" stroke-width="0.75"/>
<text x="242.39" y="259.09" font-size="8.5" font-weight="normal" text-anchor="middle" fill="#1a1a1a" stroke="#1a1a1a" stroke-width="0.15" >a</text>
<text transform="translate(237.41,278.80) rotate(-45)" font-size="9.2" font-weight="bold" text-anchor="end" fill="#111" stroke="#111" stroke-width="0.36">β-Cymene</text>
<text x="250.16" y="263.20" font-size="8.5" font-weight="normal" text-anchor="middle" fill="#1a1a1a" stroke="#1a1a1a" stroke-width="0.15" >c</text>
<text x="255.26" y="263.20" font-size="8.5" font-weight="normal" text-anchor="middle" fill="#1a1a1a" stroke="#1a1a1a" stroke-width="0.15" >c</text>
<rect x="258.14" y="220.55" width="4.45" height="49.45" fill="#7232a4" stroke="#1a1020" stroke-width="0.75"/>
<line x1="260.36" y1="219.45" x2="260.36" y2="221.05" stroke="#111" stroke-width="1.05"/>
<line x1="258.26" y1="219.45" x2="262.46" y2="219.45" stroke="#111" stroke-width="1.05"/>
<line x1="258.26" y1="221.05" x2="262.46" y2="221.05" stroke="#111" stroke-width="1.05"/>
<text x="260.36" y="213.45" font-size="8.5" font-weight="normal" text-anchor="middle" fill="#1a1a1a" stroke="#1a1a1a" stroke-width="0.15" >b</text>
<rect x="263.24" y="205.11" width="4.45" height="64.89" fill="#ffc20a" stroke="#1a1020" stroke-width="0.75"/>
<line x1="265.46" y1="203.30" x2="265.46" y2="206.31" stroke="#111" stroke-width="1.05"/>
<line x1="263.36" y1="203.30" x2="267.56" y2="203.30" stroke="#111" stroke-width="1.05"/>
<line x1="263.36" y1="206.31" x2="267.56" y2="206.31" stroke="#111" stroke-width="1.05"/>
<text x="265.46" y="198.90" font-size="8.5" font-weight="normal" text-anchor="middle" fill="#1a1a1a" stroke="#1a1a1a" stroke-width="0.15" >a</text>
<text transform="translate(260.42,278.80) rotate(-45)" font-size="9.2" font-weight="bold" text-anchor="end" fill="#111" stroke="#111" stroke-width="0.36">D-Limonene</text>
<text x="273.24" y="263.20" font-size="8.5" font-weight="normal" text-anchor="middle" fill="#1a1a1a" stroke="#1a1a1a" stroke-width="0.15" >c</text>
<text x="278.34" y="263.20" font-size="8.5" font-weight="normal" text-anchor="middle" fill="#1a1a1a" stroke="#1a1a1a" stroke-width="0.15" >c</text>
<rect x="281.22" y="245.43" width="4.45" height="24.57" fill="#7232a4" stroke="#1a1020" stroke-width="0.75"/>
<text x="283.44" y="239.13" font-size="8.5" font-weight="normal" text-anchor="middle" fill="#1a1a1a" stroke="#1a1a1a" stroke-width="0.15" >b</text>
<rect x="286.32" y="236.50" width="4.45" height="33.50" fill="#ffc20a" stroke="#1a1020" stroke-width="0.75"/>
<line x1="288.54" y1="234.19" x2="288.54" y2="238.20" stroke="#111" stroke-width="1.05"/>
<line x1="286.44" y1="234.19" x2="290.64" y2="234.19" stroke="#111" stroke-width="1.05"/>
<line x1="286.44" y1="238.20" x2="290.64" y2="238.20" stroke="#111" stroke-width="1.05"/>
<text x="288.54" y="229.79" font-size="8.5" font-weight="normal" text-anchor="middle" fill="#1a1a1a" stroke="#1a1a1a" stroke-width="0.15" >a</text>
<text transform="translate(283.43,278.80) rotate(-45)" font-size="9.2" font-weight="bold" text-anchor="end" fill="#111" stroke="#111" stroke-width="0.36">Eucalyptol</text>
<text x="296.32" y="263.20" font-size="8.5" font-weight="normal" text-anchor="middle" fill="#1a1a1a" stroke="#1a1a1a" stroke-width="0.15" >b</text>
<text x="301.42" y="263.20" font-size="8.5" font-weight="normal" text-anchor="middle" fill="#1a1a1a" stroke="#1a1a1a" stroke-width="0.15" >b</text>
<rect x="304.30" y="261.57" width="4.45" height="8.43" fill="#7232a4" stroke="#1a1020" stroke-width="0.75"/>
<line x1="306.52" y1="260.87" x2="306.52" y2="261.68" stroke="#111" stroke-width="1.05"/>
<line x1="304.42" y1="260.87" x2="308.62" y2="260.87" stroke="#111" stroke-width="1.05"/>
<line x1="304.42" y1="261.68" x2="308.62" y2="261.68" stroke="#111" stroke-width="1.05"/>
<text x="306.52" y="254.87" font-size="8.5" font-weight="normal" text-anchor="middle" fill="#1a1a1a" stroke="#1a1a1a" stroke-width="0.15" >a</text>
<rect x="309.40" y="262.58" width="4.45" height="7.42" fill="#ffc20a" stroke="#1a1020" stroke-width="0.75"/>
<text x="311.62" y="256.28" font-size="8.5" font-weight="normal" text-anchor="middle" fill="#1a1a1a" stroke="#1a1a1a" stroke-width="0.15" >a</text>
<text transform="translate(306.44,278.80) rotate(-45)" font-size="9.2" font-weight="bold" text-anchor="end" fill="#111" stroke="#111" stroke-width="0.36">4-Carene</text>
<text x="319.40" y="263.20" font-size="8.5" font-weight="normal" text-anchor="middle" fill="#1a1a1a" stroke="#1a1a1a" stroke-width="0.15" >c</text>
<text x="324.50" y="263.20" font-size="8.5" font-weight="normal" text-anchor="middle" fill="#1a1a1a" stroke="#1a1a1a" stroke-width="0.15" >c</text>
<rect x="327.38" y="265.99" width="4.45" height="4.01" fill="#7232a4" stroke="#1a1020" stroke-width="0.75"/>
<line x1="329.60" y1="265.19" x2="329.60" y2="266.19" stroke="#111" stroke-width="1.05"/>
<line x1="327.50" y1="265.19" x2="331.70" y2="265.19" stroke="#111" stroke-width="1.05"/>
<line x1="327.50" y1="266.19" x2="331.70" y2="266.19" stroke="#111" stroke-width="1.05"/>
<text x="329.60" y="259.19" font-size="8.5" font-weight="normal" text-anchor="middle" fill="#1a1a1a" stroke="#1a1a1a" stroke-width="0.15" >b</text>
<rect x="332.48" y="264.18" width="4.45" height="5.82" fill="#ffc20a" stroke="#1a1020" stroke-width="0.75"/>
<line x1="334.70" y1="263.48" x2="334.70" y2="264.28" stroke="#111" stroke-width="1.05"/>
<line x1="332.60" y1="263.48" x2="336.81" y2="263.48" stroke="#111" stroke-width="1.05"/>
<line x1="332.60" y1="264.28" x2="336.81" y2="264.28" stroke="#111" stroke-width="1.05"/>
<text x="334.70" y="257.48" font-size="8.5" font-weight="normal" text-anchor="middle" fill="#1a1a1a" stroke="#1a1a1a" stroke-width="0.15" >a</text>
<text transform="translate(329.45,278.80) rotate(-45)" font-size="9.2" font-weight="bold" text-anchor="end" fill="#111" stroke="#111" stroke-width="0.36">Camphor</text>
<text x="342.48" y="263.20" font-size="8.5" font-weight="normal" text-anchor="middle" fill="#1a1a1a" stroke="#1a1a1a" stroke-width="0.15" >b</text>
<text x="347.58" y="263.20" font-size="8.5" font-weight="normal" text-anchor="middle" fill="#1a1a1a" stroke="#1a1a1a" stroke-width="0.15" >b</text>
<rect x="350.46" y="267.49" width="4.45" height="2.51" fill="#7232a4" stroke="#1a1020" stroke-width="0.75"/>
<text x="352.68" y="261.19" font-size="8.5" font-weight="normal" text-anchor="middle" fill="#1a1a1a" stroke="#1a1a1a" stroke-width="0.15" >a</text>
<rect x="355.56" y="266.99" width="4.45" height="3.01" fill="#ffc20a" stroke="#1a1020" stroke-width="0.75"/>
<text x="357.78" y="260.69" font-size="8.5" font-weight="normal" text-anchor="middle" fill="#1a1a1a" stroke="#1a1a1a" stroke-width="0.15" >a</text>
<text transform="translate(352.46,278.80) rotate(-45)" font-size="9.2" font-weight="bold" text-anchor="end" fill="#111" stroke="#111" stroke-width="0.36">Terpine-4-ol</text>
<text x="365.56" y="263.20" font-size="8.5" font-weight="normal" text-anchor="middle" fill="#1a1a1a" stroke="#1a1a1a" stroke-width="0.15" >c</text>
<text x="370.66" y="263.20" font-size="8.5" font-weight="normal" text-anchor="middle" fill="#1a1a1a" stroke="#1a1a1a" stroke-width="0.15" >c</text>
<rect x="373.54" y="259.57" width="4.45" height="10.43" fill="#7232a4" stroke="#1a1020" stroke-width="0.75"/>
<line x1="375.76" y1="258.47" x2="375.76" y2="260.07" stroke="#111" stroke-width="1.05"/>
<line x1="373.66" y1="258.47" x2="377.86" y2="258.47" stroke="#111" stroke-width="1.05"/>
<line x1="373.66" y1="260.07" x2="377.86" y2="260.07" stroke="#111" stroke-width="1.05"/>
<text x="375.76" y="252.47" font-size="8.5" font-weight="normal" text-anchor="middle" fill="#1a1a1a" stroke="#1a1a1a" stroke-width="0.15" >b</text>
<rect x="378.64" y="257.26" width="4.45" height="12.74" fill="#ffc20a" stroke="#1a1020" stroke-width="0.75"/>
<line x1="380.86" y1="254.45" x2="380.86" y2="259.47" stroke="#111" stroke-width="1.05"/>
<line x1="378.76" y1="254.45" x2="382.96" y2="254.45" stroke="#111" stroke-width="1.05"/>
<line x1="378.76" y1="259.47" x2="382.96" y2="259.47" stroke="#111" stroke-width="1.05"/>
<text x="380.86" y="250.05" font-size="8.5" font-weight="normal" text-anchor="middle" fill="#1a1a1a" stroke="#1a1a1a" stroke-width="0.15" >a</text>
<text transform="translate(375.47,278.80) rotate(-45)" font-size="9.2" font-weight="bold" text-anchor="end" fill="#111" stroke="#111" stroke-width="0.36">α-Terpineol</text>
<text x="388.64" y="263.20" font-size="8.5" font-weight="normal" text-anchor="middle" fill="#1a1a1a" stroke="#1a1a1a" stroke-width="0.15" >b</text>
<text x="393.75" y="263.20" font-size="8.5" font-weight="normal" text-anchor="middle" fill="#1a1a1a" stroke="#1a1a1a" stroke-width="0.15" >b</text>
<text x="398.84" y="263.20" font-size="8.5" font-weight="normal" text-anchor="middle" fill="#1a1a1a" stroke="#1a1a1a" stroke-width="0.15" >b</text>
<rect x="401.72" y="263.68" width="4.45" height="6.32" fill="#ffc20a" stroke="#1a1020" stroke-width="0.75"/>
<text x="403.94" y="257.38" font-size="8.5" font-weight="normal" text-anchor="middle" fill="#1a1a1a" stroke="#1a1a1a" stroke-width="0.15" >a</text>
<text transform="translate(398.48,278.80) rotate(-45)" font-size="9.2" font-weight="bold" text-anchor="end" fill="#111" stroke="#111" stroke-width="0.36">α-Citral</text>
<text x="411.72" y="263.20" font-size="8.5" font-weight="normal" text-anchor="middle" fill="#1a1a1a" stroke="#1a1a1a" stroke-width="0.15" >b</text>
<text x="416.82" y="263.20" font-size="8.5" font-weight="normal" text-anchor="middle" fill="#1a1a1a" stroke="#1a1a1a" stroke-width="0.15" >b</text>
<rect x="419.70" y="240.21" width="4.45" height="29.79" fill="#7232a4" stroke="#1a1020" stroke-width="0.75"/>
<line x1="421.92" y1="238.41" x2="421.92" y2="241.41" stroke="#111" stroke-width="1.05"/>
<line x1="419.82" y1="238.41" x2="424.02" y2="238.41" stroke="#111" stroke-width="1.05"/>
<line x1="419.82" y1="241.41" x2="424.02" y2="241.41" stroke="#111" stroke-width="1.05"/>
<text x="421.92" y="234.01" font-size="8.5" font-weight="normal" text-anchor="middle" fill="#1a1a1a" stroke="#1a1a1a" stroke-width="0.15" >a</text>
<rect x="424.80" y="241.81" width="4.45" height="28.19" fill="#ffc20a" stroke="#1a1020" stroke-width="0.75"/>
<line x1="427.02" y1="241.01" x2="427.02" y2="242.02" stroke="#111" stroke-width="1.05"/>
<line x1="424.92" y1="241.01" x2="429.12" y2="241.01" stroke="#111" stroke-width="1.05"/>
<line x1="424.92" y1="242.02" x2="429.12" y2="242.02" stroke="#111" stroke-width="1.05"/>
<text x="427.02" y="235.01" font-size="8.5" font-weight="normal" text-anchor="middle" fill="#1a1a1a" stroke="#1a1a1a" stroke-width="0.15" >a</text>
<text transform="translate(421.49,278.80) rotate(-45)" font-size="9.2" font-weight="bold" text-anchor="end" fill="#111" stroke="#111" stroke-width="0.36">Bornyl acetate</text>
<text x="434.80" y="263.20" font-size="8.5" font-weight="normal" text-anchor="middle" fill="#1a1a1a" stroke="#1a1a1a" stroke-width="0.15" >c</text>
<text x="439.90" y="263.20" font-size="8.5" font-weight="normal" text-anchor="middle" fill="#1a1a1a" stroke="#1a1a1a" stroke-width="0.15" >c</text>
<rect x="442.78" y="219.85" width="4.45" height="50.15" fill="#7232a4" stroke="#1a1020" stroke-width="0.75"/>
<line x1="445.00" y1="214.53" x2="445.00" y2="224.56" stroke="#111" stroke-width="1.05"/>
<line x1="442.90" y1="214.53" x2="447.10" y2="214.53" stroke="#111" stroke-width="1.05"/>
<line x1="442.90" y1="224.56" x2="447.10" y2="224.56" stroke="#111" stroke-width="1.05"/>
<text x="445.00" y="210.13" font-size="8.5" font-weight="normal" text-anchor="middle" fill="#1a1a1a" stroke="#1a1a1a" stroke-width="0.15" >a</text>
<rect x="447.88" y="243.12" width="4.45" height="26.88" fill="#ffc20a" stroke="#1a1020" stroke-width="0.75"/>
<line x1="450.10" y1="242.32" x2="450.10" y2="243.32" stroke="#111" stroke-width="1.05"/>
<line x1="448.00" y1="242.32" x2="452.20" y2="242.32" stroke="#111" stroke-width="1.05"/>
<line x1="448.00" y1="243.32" x2="452.20" y2="243.32" stroke="#111" stroke-width="1.05"/>
<text x="450.10" y="236.32" font-size="8.5" font-weight="normal" text-anchor="middle" fill="#1a1a1a" stroke="#1a1a1a" stroke-width="0.15" >b</text>
<text transform="translate(444.50,278.80) rotate(-45)" font-size="9.2" font-weight="bold" text-anchor="end" fill="#111" stroke="#111" stroke-width="0.36">Caryophyllene</text>
<text x="457.88" y="263.20" font-size="8.5" font-weight="normal" text-anchor="middle" fill="#1a1a1a" stroke="#1a1a1a" stroke-width="0.15" >a</text>
<text x="462.98" y="263.20" font-size="8.5" font-weight="normal" text-anchor="middle" fill="#1a1a1a" stroke="#1a1a1a" stroke-width="0.15" >a</text>
<text x="468.08" y="263.20" font-size="8.5" font-weight="normal" text-anchor="middle" fill="#1a1a1a" stroke="#1a1a1a" stroke-width="0.15" >a</text>
<text x="473.18" y="263.20" font-size="8.5" font-weight="normal" text-anchor="middle" fill="#1a1a1a" stroke="#1a1a1a" stroke-width="0.15" >a</text>
<text transform="translate(467.51,278.80) rotate(-45)" font-size="9.2" font-weight="bold" text-anchor="end" fill="#111" stroke="#111" stroke-width="0.36">Germacrene D</text>
<text x="480.96" y="263.20" font-size="8.5" font-weight="normal" text-anchor="middle" fill="#1a1a1a" stroke="#1a1a1a" stroke-width="0.15" >c</text>
<text x="486.06" y="263.20" font-size="8.5" font-weight="normal" text-anchor="middle" fill="#1a1a1a" stroke="#1a1a1a" stroke-width="0.15" >c</text>
<rect x="488.94" y="216.14" width="4.45" height="53.86" fill="#7232a4" stroke="#1a1020" stroke-width="0.75"/>
<line x1="491.16" y1="214.33" x2="491.16" y2="217.34" stroke="#111" stroke-width="1.05"/>
<line x1="489.06" y1="214.33" x2="493.26" y2="214.33" stroke="#111" stroke-width="1.05"/>
<line x1="489.06" y1="217.34" x2="493.26" y2="217.34" stroke="#111" stroke-width="1.05"/>
<text x="491.16" y="209.93" font-size="8.5" font-weight="normal" text-anchor="middle" fill="#1a1a1a" stroke="#1a1a1a" stroke-width="0.15" >a</text>
<rect x="494.04" y="245.73" width="4.45" height="24.27" fill="#ffc20a" stroke="#1a1020" stroke-width="0.75"/>
<text x="496.26" y="239.43" font-size="8.5" font-weight="normal" text-anchor="middle" fill="#1a1a1a" stroke="#1a1a1a" stroke-width="0.15" >b</text>
<text transform="translate(490.52,278.80) rotate(-45)" font-size="9.2" font-weight="bold" text-anchor="end" fill="#111" stroke="#111" stroke-width="0.36">Germacrene B</text>
<text x="504.04" y="263.20" font-size="8.5" font-weight="normal" text-anchor="middle" fill="#1a1a1a" stroke="#1a1a1a" stroke-width="0.15" >b</text>
<text x="509.14" y="263.20" font-size="8.5" font-weight="normal" text-anchor="middle" fill="#1a1a1a" stroke="#1a1a1a" stroke-width="0.15" >b</text>
<text x="514.25" y="263.20" font-size="8.5" font-weight="normal" text-anchor="middle" fill="#1a1a1a" stroke="#1a1a1a" stroke-width="0.15" >b</text>
<rect x="517.12" y="266.69" width="4.45" height="3.31" fill="#ffc20a" stroke="#1a1020" stroke-width="0.75"/>
<line x1="519.34" y1="262.38" x2="519.34" y2="270.00" stroke="#111" stroke-width="1.05"/>
<line x1="517.24" y1="262.38" x2="521.44" y2="262.38" stroke="#111" stroke-width="1.05"/>
<line x1="517.24" y1="270.00" x2="521.44" y2="270.00" stroke="#111" stroke-width="1.05"/>
<text x="519.34" y="257.98" font-size="8.5" font-weight="normal" text-anchor="middle" fill="#1a1a1a" stroke="#1a1a1a" stroke-width="0.15" >a</text>
<text transform="translate(513.53,278.80) rotate(-45)" font-size="9.2" font-weight="bold" text-anchor="end" fill="#111" stroke="#111" stroke-width="0.36">Guaiol</text>
<text x="527.12" y="263.20" font-size="8.5" font-weight="normal" text-anchor="middle" fill="#1a1a1a" stroke="#1a1a1a" stroke-width="0.15" >a</text>
<text x="532.22" y="263.20" font-size="8.5" font-weight="normal" text-anchor="middle" fill="#1a1a1a" stroke="#1a1a1a" stroke-width="0.15" >a</text>
<text x="537.32" y="263.20" font-size="8.5" font-weight="normal" text-anchor="middle" fill="#1a1a1a" stroke="#1a1a1a" stroke-width="0.15" >a</text>
<text x="542.42" y="263.20" font-size="8.5" font-weight="normal" text-anchor="middle" fill="#1a1a1a" stroke="#1a1a1a" stroke-width="0.15" >a</text>
<text transform="translate(536.54,278.80) rotate(-45)" font-size="9.2" font-weight="bold" text-anchor="end" fill="#111" stroke="#111" stroke-width="0.36">Bulnesol</text>
<rect x="408.50" y="172.60" width="4.40" height="4.40" fill="#e8141c" stroke="#1a1020" stroke-width="1.0"/>
<text x="415.30" y="177.80" font-size="9.2" font-weight="bold" text-anchor="start" fill="#111" stroke="#111" stroke-width="0.36" >S1</text>
<rect x="443.80" y="172.60" width="4.40" height="4.40" fill="#00a651" stroke="#1a1020" stroke-width="1.0"/>
<text x="450.40" y="177.80" font-size="9.2" font-weight="bold" text-anchor="start" fill="#111" stroke="#111" stroke-width="0.36" >S2</text>
<rect x="478.60" y="172.60" width="4.40" height="4.40" fill="#7232a4" stroke="#1a1020" stroke-width="1.0"/>
<text x="485.00" y="177.80" font-size="9.2" font-weight="bold" text-anchor="start" fill="#111" stroke="#111" stroke-width="0.36" >S3</text>
<rect x="513.10" y="172.60" width="4.40" height="4.40" fill="#ffc20a" stroke="#1a1020" stroke-width="1.0"/>
<text x="519.60" y="177.80" font-size="9.2" font-weight="bold" text-anchor="start" fill="#111" stroke="#111" stroke-width="0.36" >S4</text>
<text x="4.30" y="331.80" font-size="13" font-weight="bold" text-anchor="start" fill="#111" stroke="#111" stroke-width="0.36" >d</text>
<line x1="61.60" y1="327.90" x2="61.60" y2="429.75" stroke="#111" stroke-width="1.5"/>
<line x1="60.85" y1="429.00" x2="546.78" y2="429.00" stroke="#111" stroke-width="1.5"/>
<line x1="58.40" y1="429.00" x2="61.60" y2="429.00" stroke="#111" stroke-width="1.1"/>
<text x="51.30" y="431.90" font-size="8.5" font-weight="bold" text-anchor="end" fill="#111" stroke="#111" stroke-width="0.36" >0.0</text>
<line x1="58.40" y1="395.50" x2="61.60" y2="395.50" stroke="#111" stroke-width="1.1"/>
<text x="51.30" y="398.40" font-size="8.5" font-weight="bold" text-anchor="end" fill="#111" stroke="#111" stroke-width="0.36" >5.0</text>
<line x1="58.40" y1="362.00" x2="61.60" y2="362.00" stroke="#111" stroke-width="1.1"/>
<text x="51.30" y="364.90" font-size="8.5" font-weight="bold" text-anchor="end" fill="#111" stroke="#111" stroke-width="0.36" >10.0</text>
<line x1="58.40" y1="328.50" x2="61.60" y2="328.50" stroke="#111" stroke-width="1.1"/>
<text x="51.30" y="331.40" font-size="8.5" font-weight="bold" text-anchor="end" fill="#111" stroke="#111" stroke-width="0.36" >15.0</text>
<line x1="61.60" y1="429.00" x2="61.60" y2="431.70" stroke="#111" stroke-width="1.1"/>
<line x1="84.68" y1="429.00" x2="84.68" y2="431.70" stroke="#111" stroke-width="1.1"/>
<line x1="107.76" y1="429.00" x2="107.76" y2="431.70" stroke="#111" stroke-width="1.1"/>
<line x1="130.84" y1="429.00" x2="130.84" y2="431.70" stroke="#111" stroke-width="1.1"/>
<line x1="153.92" y1="429.00" x2="153.92" y2="431.70" stroke="#111" stroke-width="1.1"/>
<line x1="177.00" y1="429.00" x2="177.00" y2="431.70" stroke="#111" stroke-width="1.1"/>
<line x1="200.08" y1="429.00" x2="200.08" y2="431.70" stroke="#111" stroke-width="1.1"/>
<line x1="223.16" y1="429.00" x2="223.16" y2="431.70" stroke="#111" stroke-width="1.1"/>
<line x1="246.24" y1="429.00" x2="246.24" y2="431.70" stroke="#111" stroke-width="1.1"/>
<line x1="269.32" y1="429.00" x2="269.32" y2="431.70" stroke="#111" stroke-width="1.1"/>
<line x1="292.40" y1="429.00" x2="292.40" y2="431.70" stroke="#111" stroke-width="1.1"/>
<line x1="315.48" y1="429.00" x2="315.48" y2="431.70" stroke="#111" stroke-width="1.1"/>
<line x1="338.56" y1="429.00" x2="338.56" y2="431.70" stroke="#111" stroke-width="1.1"/>
<line x1="361.64" y1="429.00" x2="361.64" y2="431.70" stroke="#111" stroke-width="1.1"/>
<line x1="384.72" y1="429.00" x2="384.72" y2="431.70" stroke="#111" stroke-width="1.1"/>
<line x1="407.80" y1="429.00" x2="407.80" y2="431.70" stroke="#111" stroke-width="1.1"/>
<line x1="430.88" y1="429.00" x2="430.88" y2="431.70" stroke="#111" stroke-width="1.1"/>
<line x1="453.96" y1="429.00" x2="453.96" y2="431.70" stroke="#111" stroke-width="1.1"/>
<line x1="477.04" y1="429.00" x2="477.04" y2="431.70" stroke="#111" stroke-width="1.1"/>
<line x1="500.12" y1="429.00" x2="500.12" y2="431.70" stroke="#111" stroke-width="1.1"/>
<line x1="523.20" y1="429.00" x2="523.20" y2="431.70" stroke="#111" stroke-width="1.1"/>
<line x1="546.28" y1="429.00" x2="546.28" y2="431.70" stroke="#111" stroke-width="1.1"/>
<text transform="translate(9.30,383.35) rotate(-90)" font-size="9.25" font-weight="bold" text-anchor="middle" textLength="97.0" lengthAdjust="spacingAndGlyphs" fill="#111" stroke="#111" stroke-width="0.32">Relative content of other</text>
<text transform="translate(19.70,383.35) rotate(-90)" font-size="9.25" font-weight="bold" text-anchor="middle" textLength="95.4" lengthAdjust="spacingAndGlyphs" fill="#111" stroke="#111" stroke-width="0.32">major terpenoids in leaf</text>
<text transform="translate(30.10,383.35) rotate(-90)" font-size="9.25" font-weight="bold" text-anchor="middle" textLength="99.4" lengthAdjust="spacingAndGlyphs" fill="#111" stroke="#111" stroke-width="0.32">essential oil of Cb-M (%)</text>
<text x="65.53" y="422.20" font-size="8.5" font-weight="normal" text-anchor="middle" fill="#1a1a1a" stroke="#1a1a1a" stroke-width="0.15" >a</text>
<text x="70.62" y="422.20" font-size="8.5" font-weight="normal" text-anchor="middle" fill="#1a1a1a" stroke="#1a1a1a" stroke-width="0.15" >a</text>
<text x="75.73" y="422.20" font-size="8.5" font-weight="normal" text-anchor="middle" fill="#1a1a1a" stroke="#1a1a1a" stroke-width="0.15" >a</text>
<rect x="78.60" y="426.69" width="4.45" height="2.31" fill="#ffc20a" stroke="#1a1020" stroke-width="0.75"/>
<text x="80.83" y="420.39" font-size="8.5" font-weight="normal" text-anchor="middle" fill="#1a1a1a" stroke="#1a1a1a" stroke-width="0.15" >b</text>
<text transform="translate(76.34,437.80) rotate(-45)" font-size="9.2" font-weight="bold" text-anchor="end" fill="#111" stroke="#111" stroke-width="0.36">α-Thujene</text>
<text x="88.61" y="422.20" font-size="8.5" font-weight="normal" text-anchor="middle" fill="#1a1a1a" stroke="#1a1a1a" stroke-width="0.15" >c</text>
<text x="93.71" y="422.20" font-size="8.5" font-weight="normal" text-anchor="middle" fill="#1a1a1a" stroke="#1a1a1a" stroke-width="0.15" >c</text>
<rect x="96.58" y="422.33" width="4.45" height="6.67" fill="#7232a4" stroke="#1a1020" stroke-width="0.75"/>
<text x="98.81" y="416.03" font-size="8.5" font-weight="normal" text-anchor="middle" fill="#1a1a1a" stroke="#1a1a1a" stroke-width="0.15" >b</text>
<rect x="101.68" y="407.46" width="4.45" height="21.54" fill="#ffc20a" stroke="#1a1020" stroke-width="0.75"/>
<line x1="103.91" y1="404.48" x2="103.91" y2="409.84" stroke="#111" stroke-width="1.05"/>
<line x1="101.81" y1="404.48" x2="106.01" y2="404.48" stroke="#111" stroke-width="1.05"/>
<line x1="101.81" y1="409.84" x2="106.01" y2="409.84" stroke="#111" stroke-width="1.05"/>
<text x="103.91" y="400.08" font-size="8.5" font-weight="normal" text-anchor="middle" fill="#1a1a1a" stroke="#1a1a1a" stroke-width="0.15" >a</text>
<text transform="translate(99.35,437.80) rotate(-45)" font-size="9.2" font-weight="bold" text-anchor="end" fill="#111" stroke="#111" stroke-width="0.36">α-Pinene</text>
<text x="111.69" y="422.20" font-size="8.5" font-weight="normal" text-anchor="middle" fill="#1a1a1a" stroke="#1a1a1a" stroke-width="0.15" >b</text>
<text x="116.78" y="422.20" font-size="8.5" font-weight="normal" text-anchor="middle" fill="#1a1a1a" stroke="#1a1a1a" stroke-width="0.15" >b</text>
<text x="121.89" y="422.20" font-size="8.5" font-weight="normal" text-anchor="middle" fill="#1a1a1a" stroke="#1a1a1a" stroke-width="0.15" >b</text>
<rect x="124.76" y="421.06" width="4.45" height="7.94" fill="#ffc20a" stroke="#1a1020" stroke-width="0.75"/>
<text x="126.98" y="414.76" font-size="8.5" font-weight="normal" text-anchor="middle" fill="#1a1a1a" stroke="#1a1a1a" stroke-width="0.15" >a</text>
<text transform="translate(122.36,437.80) rotate(-45)" font-size="9.2" font-weight="bold" text-anchor="end" fill="#111" stroke="#111" stroke-width="0.36">Camphene</text>
<text x="134.77" y="422.20" font-size="8.5" font-weight="normal" text-anchor="middle" fill="#1a1a1a" stroke="#1a1a1a" stroke-width="0.15" >c</text>
<text x="139.87" y="422.20" font-size="8.5" font-weight="normal" text-anchor="middle" fill="#1a1a1a" stroke="#1a1a1a" stroke-width="0.15" >c</text>
<rect x="142.74" y="421.60" width="4.45" height="7.40" fill="#7232a4" stroke="#1a1020" stroke-width="0.75"/>
<text x="144.97" y="415.30" font-size="8.5" font-weight="normal" text-anchor="middle" fill="#1a1a1a" stroke="#1a1a1a" stroke-width="0.15" >a</text>
<rect x="147.84" y="425.48" width="4.45" height="3.52" fill="#ffc20a" stroke="#1a1020" stroke-width="0.75"/>
<line x1="150.07" y1="424.51" x2="150.07" y2="425.85" stroke="#111" stroke-width="1.05"/>
<line x1="147.97" y1="424.51" x2="152.17" y2="424.51" stroke="#111" stroke-width="1.05"/>
<line x1="147.97" y1="425.85" x2="152.17" y2="425.85" stroke="#111" stroke-width="1.05"/>
<text x="150.07" y="418.51" font-size="8.5" font-weight="normal" text-anchor="middle" fill="#1a1a1a" stroke="#1a1a1a" stroke-width="0.15" >b</text>
<text transform="translate(145.37,437.80) rotate(-45)" font-size="9.2" font-weight="bold" text-anchor="end" fill="#111" stroke="#111" stroke-width="0.36">α-Phellandrene</text>
<text x="157.84" y="422.20" font-size="8.5" font-weight="normal" text-anchor="middle" fill="#1a1a1a" stroke="#1a1a1a" stroke-width="0.15" >b</text>
<text x="162.94" y="422.20" font-size="8.5" font-weight="normal" text-anchor="middle" fill="#1a1a1a" stroke="#1a1a1a" stroke-width="0.15" >b</text>
<text x="168.04" y="422.20" font-size="8.5" font-weight="normal" text-anchor="middle" fill="#1a1a1a" stroke="#1a1a1a" stroke-width="0.15" >b</text>
<rect x="170.92" y="420.86" width="4.45" height="8.14" fill="#ffc20a" stroke="#1a1020" stroke-width="0.75"/>
<text x="173.15" y="414.56" font-size="8.5" font-weight="normal" text-anchor="middle" fill="#1a1a1a" stroke="#1a1a1a" stroke-width="0.15" >a</text>
<text transform="translate(168.38,437.80) rotate(-45)" font-size="9.2" font-weight="bold" text-anchor="end" fill="#111" stroke="#111" stroke-width="0.36">β-Pinene</text>
<text x="180.93" y="422.20" font-size="8.5" font-weight="normal" text-anchor="middle" fill="#1a1a1a" stroke="#1a1a1a" stroke-width="0.15" >c</text>
<text x="186.03" y="422.20" font-size="8.5" font-weight="normal" text-anchor="middle" fill="#1a1a1a" stroke="#1a1a1a" stroke-width="0.15" >c</text>
<rect x="188.90" y="425.48" width="4.45" height="3.52" fill="#7232a4" stroke="#1a1020" stroke-width="0.75"/>
<line x1="191.12" y1="424.51" x2="191.12" y2="425.85" stroke="#111" stroke-width="1.05"/>
<line x1="189.03" y1="424.51" x2="193.22" y2="424.51" stroke="#111" stroke-width="1.05"/>
<line x1="189.03" y1="425.85" x2="193.22" y2="425.85" stroke="#111" stroke-width="1.05"/>
<text x="191.12" y="418.51" font-size="8.5" font-weight="normal" text-anchor="middle" fill="#1a1a1a" stroke="#1a1a1a" stroke-width="0.15" >b</text>
<rect x="194.00" y="416.97" width="4.45" height="12.03" fill="#ffc20a" stroke="#1a1020" stroke-width="0.75"/>
<line x1="196.23" y1="416.00" x2="196.23" y2="417.34" stroke="#111" stroke-width="1.05"/>
<line x1="194.13" y1="416.00" x2="198.33" y2="416.00" stroke="#111" stroke-width="1.05"/>
<line x1="194.13" y1="417.34" x2="198.33" y2="417.34" stroke="#111" stroke-width="1.05"/>
<text x="196.23" y="410.00" font-size="8.5" font-weight="normal" text-anchor="middle" fill="#1a1a1a" stroke="#1a1a1a" stroke-width="0.15" >a</text>
<text transform="translate(191.39,437.80) rotate(-45)" font-size="9.2" font-weight="bold" text-anchor="end" fill="#111" stroke="#111" stroke-width="0.36">β-Myrcene</text>
<text x="204.00" y="422.20" font-size="8.5" font-weight="normal" text-anchor="middle" fill="#1a1a1a" stroke="#1a1a1a" stroke-width="0.15" >b</text>
<text x="209.10" y="422.20" font-size="8.5" font-weight="normal" text-anchor="middle" fill="#1a1a1a" stroke="#1a1a1a" stroke-width="0.15" >b</text>
<text x="214.20" y="422.20" font-size="8.5" font-weight="normal" text-anchor="middle" fill="#1a1a1a" stroke="#1a1a1a" stroke-width="0.15" >b</text>
<rect x="217.08" y="414.69" width="4.45" height="14.31" fill="#ffc20a" stroke="#1a1020" stroke-width="0.75"/>
<line x1="219.31" y1="413.72" x2="219.31" y2="415.06" stroke="#111" stroke-width="1.05"/>
<line x1="217.21" y1="413.72" x2="221.41" y2="413.72" stroke="#111" stroke-width="1.05"/>
<line x1="217.21" y1="415.06" x2="221.41" y2="415.06" stroke="#111" stroke-width="1.05"/>
<text x="219.31" y="407.72" font-size="8.5" font-weight="normal" text-anchor="middle" fill="#1a1a1a" stroke="#1a1a1a" stroke-width="0.15" >a</text>
<text transform="translate(214.40,437.80) rotate(-45)" font-size="9.2" font-weight="bold" text-anchor="end" fill="#111" stroke="#111" stroke-width="0.36">β-Phellandrene</text>
<text x="227.09" y="422.20" font-size="8.5" font-weight="normal" text-anchor="middle" fill="#1a1a1a" stroke="#1a1a1a" stroke-width="0.15" >b</text>
<text x="232.19" y="422.20" font-size="8.5" font-weight="normal" text-anchor="middle" fill="#1a1a1a" stroke="#1a1a1a" stroke-width="0.15" >b</text>
<text x="237.28" y="422.20" font-size="8.5" font-weight="normal" text-anchor="middle" fill="#1a1a1a" stroke="#1a1a1a" stroke-width="0.15" >b</text>
<rect x="240.16" y="424.94" width="4.45" height="4.06" fill="#ffc20a" stroke="#1a1020" stroke-width="0.75"/>
<text x="242.39" y="418.64" font-size="8.5" font-weight="normal" text-anchor="middle" fill="#1a1a1a" stroke="#1a1a1a" stroke-width="0.15" >a</text>
<text transform="translate(237.41,437.80) rotate(-45)" font-size="9.2" font-weight="bold" text-anchor="end" fill="#111" stroke="#111" stroke-width="0.36">β-Cymene</text>
<text x="250.16" y="422.20" font-size="8.5" font-weight="normal" text-anchor="middle" fill="#1a1a1a" stroke="#1a1a1a" stroke-width="0.15" >c</text>
<text x="255.26" y="422.20" font-size="8.5" font-weight="normal" text-anchor="middle" fill="#1a1a1a" stroke="#1a1a1a" stroke-width="0.15" >c</text>
<rect x="258.14" y="420.32" width="4.45" height="8.68" fill="#7232a4" stroke="#1a1020" stroke-width="0.75"/>
<line x1="260.36" y1="417.34" x2="260.36" y2="422.70" stroke="#111" stroke-width="1.05"/>
<line x1="258.26" y1="417.34" x2="262.46" y2="417.34" stroke="#111" stroke-width="1.05"/>
<line x1="258.26" y1="422.70" x2="262.46" y2="422.70" stroke="#111" stroke-width="1.05"/>
<text x="260.36" y="412.94" font-size="8.5" font-weight="normal" text-anchor="middle" fill="#1a1a1a" stroke="#1a1a1a" stroke-width="0.15" >b</text>
<rect x="263.24" y="403.64" width="4.45" height="25.36" fill="#ffc20a" stroke="#1a1020" stroke-width="0.75"/>
<line x1="265.46" y1="399.99" x2="265.46" y2="406.69" stroke="#111" stroke-width="1.05"/>
<line x1="263.36" y1="399.99" x2="267.56" y2="399.99" stroke="#111" stroke-width="1.05"/>
<line x1="263.36" y1="406.69" x2="267.56" y2="406.69" stroke="#111" stroke-width="1.05"/>
<text x="265.46" y="395.59" font-size="8.5" font-weight="normal" text-anchor="middle" fill="#1a1a1a" stroke="#1a1a1a" stroke-width="0.15" >a</text>
<text transform="translate(260.42,437.80) rotate(-45)" font-size="9.2" font-weight="bold" text-anchor="end" fill="#111" stroke="#111" stroke-width="0.36">D-Limonene</text>
<text x="273.24" y="422.20" font-size="8.5" font-weight="normal" text-anchor="middle" fill="#1a1a1a" stroke="#1a1a1a" stroke-width="0.15" >b</text>
<text x="278.34" y="422.20" font-size="8.5" font-weight="normal" text-anchor="middle" fill="#1a1a1a" stroke="#1a1a1a" stroke-width="0.15" >b</text>
<text x="283.44" y="422.20" font-size="8.5" font-weight="normal" text-anchor="middle" fill="#1a1a1a" stroke="#1a1a1a" stroke-width="0.15" >b</text>
<rect x="286.32" y="415.70" width="4.45" height="13.30" fill="#ffc20a" stroke="#1a1020" stroke-width="0.75"/>
<line x1="288.54" y1="414.73" x2="288.54" y2="416.07" stroke="#111" stroke-width="1.05"/>
<line x1="286.44" y1="414.73" x2="290.64" y2="414.73" stroke="#111" stroke-width="1.05"/>
<line x1="286.44" y1="416.07" x2="290.64" y2="416.07" stroke="#111" stroke-width="1.05"/>
<text x="288.54" y="408.73" font-size="8.5" font-weight="normal" text-anchor="middle" fill="#1a1a1a" stroke="#1a1a1a" stroke-width="0.15" >a</text>
<text transform="translate(283.43,437.80) rotate(-45)" font-size="9.2" font-weight="bold" text-anchor="end" fill="#111" stroke="#111" stroke-width="0.36">Eucalyptol</text>
<text x="296.32" y="422.20" font-size="8.5" font-weight="normal" text-anchor="middle" fill="#1a1a1a" stroke="#1a1a1a" stroke-width="0.15" >b</text>
<text x="301.42" y="422.20" font-size="8.5" font-weight="normal" text-anchor="middle" fill="#1a1a1a" stroke="#1a1a1a" stroke-width="0.15" >b</text>
<text x="306.52" y="422.20" font-size="8.5" font-weight="normal" text-anchor="middle" fill="#1a1a1a" stroke="#1a1a1a" stroke-width="0.15" >b</text>
<rect x="309.40" y="422.87" width="4.45" height="6.13" fill="#ffc20a" stroke="#1a1020" stroke-width="0.75"/>
<line x1="311.62" y1="421.90" x2="311.62" y2="423.24" stroke="#111" stroke-width="1.05"/>
<line x1="309.52" y1="421.90" x2="313.72" y2="421.90" stroke="#111" stroke-width="1.05"/>
<line x1="309.52" y1="423.24" x2="313.72" y2="423.24" stroke="#111" stroke-width="1.05"/>
<text x="311.62" y="415.90" font-size="8.5" font-weight="normal" text-anchor="middle" fill="#1a1a1a" stroke="#1a1a1a" stroke-width="0.15" >a</text>
<text transform="translate(306.44,437.80) rotate(-45)" font-size="9.2" font-weight="bold" text-anchor="end" fill="#111" stroke="#111" stroke-width="0.36">4-Carene</text>
<text x="319.40" y="422.20" font-size="8.5" font-weight="normal" text-anchor="middle" fill="#1a1a1a" stroke="#1a1a1a" stroke-width="0.15" >a</text>
<text x="324.50" y="422.20" font-size="8.5" font-weight="normal" text-anchor="middle" fill="#1a1a1a" stroke="#1a1a1a" stroke-width="0.15" >a</text>
<text x="329.60" y="422.20" font-size="8.5" font-weight="normal" text-anchor="middle" fill="#1a1a1a" stroke="#1a1a1a" stroke-width="0.15" >a</text>
<text x="334.70" y="422.20" font-size="8.5" font-weight="normal" text-anchor="middle" fill="#1a1a1a" stroke="#1a1a1a" stroke-width="0.15" >a</text>
<text transform="translate(329.45,437.80) rotate(-45)" font-size="9.2" font-weight="bold" text-anchor="end" fill="#111" stroke="#111" stroke-width="0.36">Camphor</text>
<text x="342.48" y="422.20" font-size="8.5" font-weight="normal" text-anchor="middle" fill="#1a1a1a" stroke="#1a1a1a" stroke-width="0.15" >a</text>
<text x="347.58" y="422.20" font-size="8.5" font-weight="normal" text-anchor="middle" fill="#1a1a1a" stroke="#1a1a1a" stroke-width="0.15" >a</text>
<text x="352.68" y="422.20" font-size="8.5" font-weight="normal" text-anchor="middle" fill="#1a1a1a" stroke="#1a1a1a" stroke-width="0.15" >a</text>
<text x="357.78" y="422.20" font-size="8.5" font-weight="normal" text-anchor="middle" fill="#1a1a1a" stroke="#1a1a1a" stroke-width="0.15" >a</text>
<text transform="translate(352.46,437.80) rotate(-45)" font-size="9.2" font-weight="bold" text-anchor="end" fill="#111" stroke="#111" stroke-width="0.36">Terpine-4-ol</text>
<text x="365.56" y="422.20" font-size="8.5" font-weight="normal" text-anchor="middle" fill="#1a1a1a" stroke="#1a1a1a" stroke-width="0.15" >b</text>
<text x="370.66" y="422.20" font-size="8.5" font-weight="normal" text-anchor="middle" fill="#1a1a1a" stroke="#1a1a1a" stroke-width="0.15" >b</text>
<text x="375.76" y="422.20" font-size="8.5" font-weight="normal" text-anchor="middle" fill="#1a1a1a" stroke="#1a1a1a" stroke-width="0.15" >b</text>
<rect x="378.64" y="422.87" width="4.45" height="6.13" fill="#ffc20a" stroke="#1a1020" stroke-width="0.75"/>
<line x1="380.86" y1="419.55" x2="380.86" y2="425.58" stroke="#111" stroke-width="1.05"/>
<line x1="378.76" y1="419.55" x2="382.96" y2="419.55" stroke="#111" stroke-width="1.05"/>
<line x1="378.76" y1="425.58" x2="382.96" y2="425.58" stroke="#111" stroke-width="1.05"/>
<text x="380.86" y="415.15" font-size="8.5" font-weight="normal" text-anchor="middle" fill="#1a1a1a" stroke="#1a1a1a" stroke-width="0.15" >a</text>
<text transform="translate(375.47,437.80) rotate(-45)" font-size="9.2" font-weight="bold" text-anchor="end" fill="#111" stroke="#111" stroke-width="0.36">α-Terpineol</text>
<text x="388.64" y="422.20" font-size="8.5" font-weight="normal" text-anchor="middle" fill="#1a1a1a" stroke="#1a1a1a" stroke-width="0.15" >a</text>
<text x="393.75" y="422.20" font-size="8.5" font-weight="normal" text-anchor="middle" fill="#1a1a1a" stroke="#1a1a1a" stroke-width="0.15" >a</text>
<text x="398.84" y="422.20" font-size="8.5" font-weight="normal" text-anchor="middle" fill="#1a1a1a" stroke="#1a1a1a" stroke-width="0.15" >a</text>
<text x="403.94" y="422.20" font-size="8.5" font-weight="normal" text-anchor="middle" fill="#1a1a1a" stroke="#1a1a1a" stroke-width="0.15" >a</text>
<text transform="translate(398.48,437.80) rotate(-45)" font-size="9.2" font-weight="bold" text-anchor="end" fill="#111" stroke="#111" stroke-width="0.36">α-Citral</text>
<text x="411.72" y="422.20" font-size="8.5" font-weight="normal" text-anchor="middle" fill="#1a1a1a" stroke="#1a1a1a" stroke-width="0.15" >b</text>
<text x="416.82" y="422.20" font-size="8.5" font-weight="normal" text-anchor="middle" fill="#1a1a1a" stroke="#1a1a1a" stroke-width="0.15" >b</text>
<text x="421.92" y="422.20" font-size="8.5" font-weight="normal" text-anchor="middle" fill="#1a1a1a" stroke="#1a1a1a" stroke-width="0.15" >b</text>
<rect x="424.80" y="420.32" width="4.45" height="8.68" fill="#ffc20a" stroke="#1a1020" stroke-width="0.75"/>
<line x1="427.02" y1="419.02" x2="427.02" y2="421.03" stroke="#111" stroke-width="1.05"/>
<line x1="424.92" y1="419.02" x2="429.12" y2="419.02" stroke="#111" stroke-width="1.05"/>
<line x1="424.92" y1="421.03" x2="429.12" y2="421.03" stroke="#111" stroke-width="1.05"/>
<text x="427.02" y="413.02" font-size="8.5" font-weight="normal" text-anchor="middle" fill="#1a1a1a" stroke="#1a1a1a" stroke-width="0.15" >a</text>
<text transform="translate(421.49,437.80) rotate(-45)" font-size="9.2" font-weight="bold" text-anchor="end" fill="#111" stroke="#111" stroke-width="0.36">Bornyl acetate</text>
<text x="434.80" y="422.20" font-size="8.5" font-weight="normal" text-anchor="middle" fill="#1a1a1a" stroke="#1a1a1a" stroke-width="0.15" >b</text>
<text x="439.90" y="422.20" font-size="8.5" font-weight="normal" text-anchor="middle" fill="#1a1a1a" stroke="#1a1a1a" stroke-width="0.15" >b</text>
<rect x="442.78" y="412.62" width="4.45" height="16.38" fill="#7232a4" stroke="#1a1020" stroke-width="0.75"/>
<line x1="445.00" y1="409.30" x2="445.00" y2="415.33" stroke="#111" stroke-width="1.05"/>
<line x1="442.90" y1="409.30" x2="447.10" y2="409.30" stroke="#111" stroke-width="1.05"/>
<line x1="442.90" y1="415.33" x2="447.10" y2="415.33" stroke="#111" stroke-width="1.05"/>
<text x="445.00" y="404.90" font-size="8.5" font-weight="normal" text-anchor="middle" fill="#1a1a1a" stroke="#1a1a1a" stroke-width="0.15" >a</text>
<rect x="447.88" y="411.34" width="4.45" height="17.66" fill="#ffc20a" stroke="#1a1020" stroke-width="0.75"/>
<line x1="450.10" y1="409.03" x2="450.10" y2="413.05" stroke="#111" stroke-width="1.05"/>
<line x1="448.00" y1="409.03" x2="452.20" y2="409.03" stroke="#111" stroke-width="1.05"/>
<line x1="448.00" y1="413.05" x2="452.20" y2="413.05" stroke="#111" stroke-width="1.05"/>
<text x="450.10" y="404.63" font-size="8.5" font-weight="normal" text-anchor="middle" fill="#1a1a1a" stroke="#1a1a1a" stroke-width="0.15" >a</text>
<text transform="translate(444.50,437.80) rotate(-45)" font-size="9.2" font-weight="bold" text-anchor="end" fill="#111" stroke="#111" stroke-width="0.36">Caryophyllene</text>
<text x="457.88" y="422.20" font-size="8.5" font-weight="normal" text-anchor="middle" fill="#1a1a1a" stroke="#1a1a1a" stroke-width="0.15" >b</text>
<text x="462.98" y="422.20" font-size="8.5" font-weight="normal" text-anchor="middle" fill="#1a1a1a" stroke="#1a1a1a" stroke-width="0.15" >b</text>
<text x="468.08" y="422.20" font-size="8.5" font-weight="normal" text-anchor="middle" fill="#1a1a1a" stroke="#1a1a1a" stroke-width="0.15" >b</text>
<rect x="470.96" y="425.95" width="4.45" height="3.05" fill="#ffc20a" stroke="#1a1020" stroke-width="0.75"/>
<line x1="473.18" y1="422.97" x2="473.18" y2="428.33" stroke="#111" stroke-width="1.05"/>
<line x1="471.08" y1="422.97" x2="475.28" y2="422.97" stroke="#111" stroke-width="1.05"/>
<line x1="471.08" y1="428.33" x2="475.28" y2="428.33" stroke="#111" stroke-width="1.05"/>
<text x="473.18" y="418.57" font-size="8.5" font-weight="normal" text-anchor="middle" fill="#1a1a1a" stroke="#1a1a1a" stroke-width="0.15" >a</text>
<text transform="translate(467.51,437.80) rotate(-45)" font-size="9.2" font-weight="bold" text-anchor="end" fill="#111" stroke="#111" stroke-width="0.36">Germacrene D</text>
<text x="480.96" y="422.20" font-size="8.5" font-weight="normal" text-anchor="middle" fill="#1a1a1a" stroke="#1a1a1a" stroke-width="0.15" >c</text>
<text x="486.06" y="422.20" font-size="8.5" font-weight="normal" text-anchor="middle" fill="#1a1a1a" stroke="#1a1a1a" stroke-width="0.15" >c</text>
<rect x="488.94" y="370.34" width="4.45" height="58.66" fill="#7232a4" stroke="#1a1020" stroke-width="0.75"/>
<line x1="491.16" y1="364.34" x2="491.16" y2="375.73" stroke="#111" stroke-width="1.05"/>
<line x1="489.06" y1="364.34" x2="493.26" y2="364.34" stroke="#111" stroke-width="1.05"/>
<line x1="489.06" y1="375.73" x2="493.26" y2="375.73" stroke="#111" stroke-width="1.05"/>
<text x="491.16" y="359.94" font-size="8.5" font-weight="normal" text-anchor="middle" fill="#1a1a1a" stroke="#1a1a1a" stroke-width="0.15" >a</text>
<rect x="494.04" y="408.80" width="4.45" height="20.20" fill="#ffc20a" stroke="#1a1020" stroke-width="0.75"/>
<line x1="496.26" y1="407.83" x2="496.26" y2="409.17" stroke="#111" stroke-width="1.05"/>
<line x1="494.16" y1="407.83" x2="498.36" y2="407.83" stroke="#111" stroke-width="1.05"/>
<line x1="494.16" y1="409.17" x2="498.36" y2="409.17" stroke="#111" stroke-width="1.05"/>
<text x="496.26" y="401.83" font-size="8.5" font-weight="normal" text-anchor="middle" fill="#1a1a1a" stroke="#1a1a1a" stroke-width="0.15" >b</text>
<text transform="translate(490.52,437.80) rotate(-45)" font-size="9.2" font-weight="bold" text-anchor="end" fill="#111" stroke="#111" stroke-width="0.36">Germacrene B</text>
<text x="504.04" y="422.20" font-size="8.5" font-weight="normal" text-anchor="middle" fill="#1a1a1a" stroke="#1a1a1a" stroke-width="0.15" >b</text>
<text x="509.14" y="422.20" font-size="8.5" font-weight="normal" text-anchor="middle" fill="#1a1a1a" stroke="#1a1a1a" stroke-width="0.15" >b</text>
<text x="514.25" y="422.20" font-size="8.5" font-weight="normal" text-anchor="middle" fill="#1a1a1a" stroke="#1a1a1a" stroke-width="0.15" >b</text>
<rect x="517.12" y="420.86" width="4.45" height="8.14" fill="#ffc20a" stroke="#1a1020" stroke-width="0.75"/>
<line x1="519.34" y1="419.89" x2="519.34" y2="421.23" stroke="#111" stroke-width="1.05"/>
<line x1="517.24" y1="419.89" x2="521.44" y2="419.89" stroke="#111" stroke-width="1.05"/>
<line x1="517.24" y1="421.23" x2="521.44" y2="421.23" stroke="#111" stroke-width="1.05"/>
<text x="519.34" y="413.89" font-size="8.5" font-weight="normal" text-anchor="middle" fill="#1a1a1a" stroke="#1a1a1a" stroke-width="0.15" >a</text>
<text transform="translate(513.53,437.80) rotate(-45)" font-size="9.2" font-weight="bold" text-anchor="end" fill="#111" stroke="#111" stroke-width="0.36">Guaiol</text>
<text x="527.12" y="422.20" font-size="8.5" font-weight="normal" text-anchor="middle" fill="#1a1a1a" stroke="#1a1a1a" stroke-width="0.15" >a</text>
<text x="532.22" y="422.20" font-size="8.5" font-weight="normal" text-anchor="middle" fill="#1a1a1a" stroke="#1a1a1a" stroke-width="0.15" >a</text>
<text x="537.32" y="422.20" font-size="8.5" font-weight="normal" text-anchor="middle" fill="#1a1a1a" stroke="#1a1a1a" stroke-width="0.15" >a</text>
<text x="542.42" y="422.20" font-size="8.5" font-weight="normal" text-anchor="middle" fill="#1a1a1a" stroke="#1a1a1a" stroke-width="0.15" >a</text>
<text transform="translate(536.54,437.80) rotate(-45)" font-size="9.2" font-weight="bold" text-anchor="end" fill="#111" stroke="#111" stroke-width="0.36">Bulnesol</text>
<rect x="410.20" y="331.70" width="4.40" height="4.40" fill="#e8141c" stroke="#1a1020" stroke-width="1.0"/>
<text x="417.00" y="336.90" font-size="9.2" font-weight="bold" text-anchor="start" fill="#111" stroke="#111" stroke-width="0.36" >S1</text>
<rect x="445.50" y="331.70" width="4.40" height="4.40" fill="#00a651" stroke="#1a1020" stroke-width="1.0"/>
<text x="452.10" y="336.90" font-size="9.2" font-weight="bold" text-anchor="start" fill="#111" stroke="#111" stroke-width="0.36" >S2</text>
<rect x="480.30" y="331.70" width="4.40" height="4.40" fill="#7232a4" stroke="#1a1020" stroke-width="1.0"/>
<text x="486.70" y="336.90" font-size="9.2" font-weight="bold" text-anchor="start" fill="#111" stroke="#111" stroke-width="0.36" >S3</text>
<rect x="514.80" y="331.70" width="4.40" height="4.40" fill="#ffc20a" stroke="#1a1020" stroke-width="1.0"/>
<text x="521.30" y="336.90" font-size="9.2" font-weight="bold" text-anchor="start" fill="#111" stroke="#111" stroke-width="0.36" >S4</text>
<text x="4.30" y="490.40" font-size="13" font-weight="bold" text-anchor="start" fill="#111" stroke="#111" stroke-width="0.36" >e</text>
<line x1="61.60" y1="487.10" x2="61.60" y2="588.45" stroke="#111" stroke-width="1.5"/>
<line x1="60.85" y1="587.70" x2="546.78" y2="587.70" stroke="#111" stroke-width="1.5"/>
<line x1="58.40" y1="587.70" x2="61.60" y2="587.70" stroke="#111" stroke-width="1.1"/>
<text x="51.30" y="590.60" font-size="8.5" font-weight="bold" text-anchor="end" fill="#111" stroke="#111" stroke-width="0.36" >0.0</text>
<line x1="58.40" y1="567.70" x2="61.60" y2="567.70" stroke="#111" stroke-width="1.1"/>
<text x="51.30" y="570.60" font-size="8.5" font-weight="bold" text-anchor="end" fill="#111" stroke="#111" stroke-width="0.36" >5.0</text>
<line x1="58.40" y1="547.70" x2="61.60" y2="547.70" stroke="#111" stroke-width="1.1"/>
<text x="51.30" y="550.60" font-size="8.5" font-weight="bold" text-anchor="end" fill="#111" stroke="#111" stroke-width="0.36" >10.0</text>
<line x1="58.40" y1="527.70" x2="61.60" y2="527.70" stroke="#111" stroke-width="1.1"/>
<text x="51.30" y="530.60" font-size="8.5" font-weight="bold" text-anchor="end" fill="#111" stroke="#111" stroke-width="0.36" >15.0</text>
<line x1="58.40" y1="507.70" x2="61.60" y2="507.70" stroke="#111" stroke-width="1.1"/>
<text x="51.30" y="510.60" font-size="8.5" font-weight="bold" text-anchor="end" fill="#111" stroke="#111" stroke-width="0.36" >20.0</text>
<line x1="58.40" y1="487.70" x2="61.60" y2="487.70" stroke="#111" stroke-width="1.1"/>
<text x="51.30" y="490.60" font-size="8.5" font-weight="bold" text-anchor="end" fill="#111" stroke="#111" stroke-width="0.36" >25.0</text>
<line x1="61.60" y1="587.70" x2="61.60" y2="590.40" stroke="#111" stroke-width="1.1"/>
<line x1="84.68" y1="587.70" x2="84.68" y2="590.40" stroke="#111" stroke-width="1.1"/>
<line x1="107.76" y1="587.70" x2="107.76" y2="590.40" stroke="#111" stroke-width="1.1"/>
<line x1="130.84" y1="587.70" x2="130.84" y2="590.40" stroke="#111" stroke-width="1.1"/>
<line x1="153.92" y1="587.70" x2="153.92" y2="590.40" stroke="#111" stroke-width="1.1"/>
<line x1="177.00" y1="587.70" x2="177.00" y2="590.40" stroke="#111" stroke-width="1.1"/>
<line x1="200.08" y1="587.70" x2="200.08" y2="590.40" stroke="#111" stroke-width="1.1"/>
<line x1="223.16" y1="587.70" x2="223.16" y2="590.40" stroke="#111" stroke-width="1.1"/>
<line x1="246.24" y1="587.70" x2="246.24" y2="590.40" stroke="#111" stroke-width="1.1"/>
<line x1="269.32" y1="587.70" x2="269.32" y2="590.40" stroke="#111" stroke-width="1.1"/>
<line x1="292.40" y1="587.70" x2="292.40" y2="590.40" stroke="#111" stroke-width="1.1"/>
<line x1="315.48" y1="587.70" x2="315.48" y2="590.40" stroke="#111" stroke-width="1.1"/>
<line x1="338.56" y1="587.70" x2="338.56" y2="590.40" stroke="#111" stroke-width="1.1"/>
<line x1="361.64" y1="587.70" x2="361.64" y2="590.40" stroke="#111" stroke-width="1.1"/>
<line x1="384.72" y1="587.70" x2="384.72" y2="590.40" stroke="#111" stroke-width="1.1"/>
<line x1="407.80" y1="587.70" x2="407.80" y2="590.40" stroke="#111" stroke-width="1.1"/>
<line x1="430.88" y1="587.70" x2="430.88" y2="590.40" stroke="#111" stroke-width="1.1"/>
<line x1="453.96" y1="587.70" x2="453.96" y2="590.40" stroke="#111" stroke-width="1.1"/>
<line x1="477.04" y1="587.70" x2="477.04" y2="590.40" stroke="#111" stroke-width="1.1"/>
<line x1="500.12" y1="587.70" x2="500.12" y2="590.40" stroke="#111" stroke-width="1.1"/>
<line x1="523.20" y1="587.70" x2="523.20" y2="590.40" stroke="#111" stroke-width="1.1"/>
<line x1="546.28" y1="587.70" x2="546.28" y2="590.40" stroke="#111" stroke-width="1.1"/>
<text transform="translate(9.30,542.30) rotate(-90)" font-size="9.25" font-weight="bold" text-anchor="middle" textLength="97.0" lengthAdjust="spacingAndGlyphs" fill="#111" stroke="#111" stroke-width="0.32">Relative content of other</text>
<text transform="translate(19.70,542.30) rotate(-90)" font-size="9.25" font-weight="bold" text-anchor="middle" textLength="95.4" lengthAdjust="spacingAndGlyphs" fill="#111" stroke="#111" stroke-width="0.32">major terpenoids in leaf</text>
<text transform="translate(30.10,542.30) rotate(-90)" font-size="9.25" font-weight="bold" text-anchor="middle" textLength="99.4" lengthAdjust="spacingAndGlyphs" fill="#111" stroke="#111" stroke-width="0.32">essential oil of Cb-L (%)</text>
<text x="65.53" y="580.90" font-size="8.5" font-weight="normal" text-anchor="middle" fill="#1a1a1a" stroke="#1a1a1a" stroke-width="0.15" >b</text>
<text x="70.62" y="580.90" font-size="8.5" font-weight="normal" text-anchor="middle" fill="#1a1a1a" stroke="#1a1a1a" stroke-width="0.15" >b</text>
<rect x="73.50" y="584.68" width="4.45" height="3.02" fill="#7232a4" stroke="#1a1020" stroke-width="0.75"/>
<text x="75.73" y="578.38" font-size="8.5" font-weight="normal" text-anchor="middle" fill="#1a1a1a" stroke="#1a1a1a" stroke-width="0.15" >a</text>
<rect x="78.60" y="583.40" width="4.45" height="4.30" fill="#ffc20a" stroke="#1a1020" stroke-width="0.75"/>
<text x="80.83" y="577.10" font-size="8.5" font-weight="normal" text-anchor="middle" fill="#1a1a1a" stroke="#1a1a1a" stroke-width="0.15" >a</text>
<text transform="translate(76.34,596.50) rotate(-45)" font-size="9.2" font-weight="bold" text-anchor="end" fill="#111" stroke="#111" stroke-width="0.36">α-Thujene</text>
<text x="88.61" y="580.90" font-size="8.5" font-weight="normal" text-anchor="middle" fill="#1a1a1a" stroke="#1a1a1a" stroke-width="0.15" >c</text>
<text x="93.71" y="580.90" font-size="8.5" font-weight="normal" text-anchor="middle" fill="#1a1a1a" stroke="#1a1a1a" stroke-width="0.15" >c</text>
<rect x="96.58" y="581.60" width="4.45" height="6.10" fill="#7232a4" stroke="#1a1020" stroke-width="0.75"/>
<line x1="98.81" y1="579.70" x2="98.81" y2="582.90" stroke="#111" stroke-width="1.05"/>
<line x1="96.71" y1="579.70" x2="100.91" y2="579.70" stroke="#111" stroke-width="1.05"/>
<line x1="96.71" y1="582.90" x2="100.91" y2="582.90" stroke="#111" stroke-width="1.05"/>
<text x="98.81" y="575.30" font-size="8.5" font-weight="normal" text-anchor="middle" fill="#1a1a1a" stroke="#1a1a1a" stroke-width="0.15" >b</text>
<rect x="101.68" y="576.48" width="4.45" height="11.22" fill="#ffc20a" stroke="#1a1020" stroke-width="0.75"/>
<line x1="103.91" y1="575.98" x2="103.91" y2="576.38" stroke="#111" stroke-width="1.05"/>
<line x1="101.81" y1="575.98" x2="106.01" y2="575.98" stroke="#111" stroke-width="1.05"/>
<line x1="101.81" y1="576.38" x2="106.01" y2="576.38" stroke="#111" stroke-width="1.05"/>
<text x="103.91" y="569.98" font-size="8.5" font-weight="normal" text-anchor="middle" fill="#1a1a1a" stroke="#1a1a1a" stroke-width="0.15" >a</text>
<text transform="translate(99.35,596.50) rotate(-45)" font-size="9.2" font-weight="bold" text-anchor="end" fill="#111" stroke="#111" stroke-width="0.36">α-Pinene</text>
<text x="111.69" y="580.90" font-size="8.5" font-weight="normal" text-anchor="middle" fill="#1a1a1a" stroke="#1a1a1a" stroke-width="0.15" >a</text>
<text x="116.78" y="580.90" font-size="8.5" font-weight="normal" text-anchor="middle" fill="#1a1a1a" stroke="#1a1a1a" stroke-width="0.15" >a</text>
<text x="121.89" y="580.90" font-size="8.5" font-weight="normal" text-anchor="middle" fill="#1a1a1a" stroke="#1a1a1a" stroke-width="0.15" >a</text>
<text x="126.98" y="580.90" font-size="8.5" font-weight="normal" text-anchor="middle" fill="#1a1a1a" stroke="#1a1a1a" stroke-width="0.15" >a</text>
<text transform="translate(122.36,596.50) rotate(-45)" font-size="9.2" font-weight="bold" text-anchor="end" fill="#111" stroke="#111" stroke-width="0.36">Camphene</text>
<text x="134.77" y="580.90" font-size="8.5" font-weight="normal" text-anchor="middle" fill="#1a1a1a" stroke="#1a1a1a" stroke-width="0.15" >c</text>
<text x="139.87" y="580.90" font-size="8.5" font-weight="normal" text-anchor="middle" fill="#1a1a1a" stroke="#1a1a1a" stroke-width="0.15" >c</text>
<rect x="142.74" y="540.40" width="4.45" height="47.30" fill="#7232a4" stroke="#1a1020" stroke-width="0.75"/>
<line x1="144.97" y1="534.10" x2="144.97" y2="546.10" stroke="#111" stroke-width="1.05"/>
<line x1="142.87" y1="534.10" x2="147.06" y2="534.10" stroke="#111" stroke-width="1.05"/>
<line x1="142.87" y1="546.10" x2="147.06" y2="546.10" stroke="#111" stroke-width="1.05"/>
<text x="144.97" y="529.70" font-size="8.5" font-weight="normal" text-anchor="middle" fill="#1a1a1a" stroke="#1a1a1a" stroke-width="0.15" >b</text>
<rect x="147.84" y="525.20" width="4.45" height="62.50" fill="#ffc20a" stroke="#1a1020" stroke-width="0.75"/>
<line x1="150.07" y1="520.50" x2="150.07" y2="529.30" stroke="#111" stroke-width="1.05"/>
<line x1="147.97" y1="520.50" x2="152.17" y2="520.50" stroke="#111" stroke-width="1.05"/>
<line x1="147.97" y1="529.30" x2="152.17" y2="529.30" stroke="#111" stroke-width="1.05"/>
<text x="150.07" y="516.10" font-size="8.5" font-weight="normal" text-anchor="middle" fill="#1a1a1a" stroke="#1a1a1a" stroke-width="0.15" >a</text>
<text transform="translate(145.37,596.50) rotate(-45)" font-size="9.2" font-weight="bold" text-anchor="end" fill="#111" stroke="#111" stroke-width="0.36">α-Phellandrene</text>
<text x="157.84" y="580.90" font-size="8.5" font-weight="normal" text-anchor="middle" fill="#1a1a1a" stroke="#1a1a1a" stroke-width="0.15" >c</text>
<text x="162.94" y="580.90" font-size="8.5" font-weight="normal" text-anchor="middle" fill="#1a1a1a" stroke="#1a1a1a" stroke-width="0.15" >c</text>
<rect x="165.82" y="584.92" width="4.45" height="2.78" fill="#7232a4" stroke="#1a1020" stroke-width="0.75"/>
<text x="168.04" y="578.62" font-size="8.5" font-weight="normal" text-anchor="middle" fill="#1a1a1a" stroke="#1a1a1a" stroke-width="0.15" >b</text>
<rect x="170.92" y="582.60" width="4.45" height="5.10" fill="#ffc20a" stroke="#1a1020" stroke-width="0.75"/>
<line x1="173.15" y1="582.10" x2="173.15" y2="582.50" stroke="#111" stroke-width="1.05"/>
<line x1="171.05" y1="582.10" x2="175.25" y2="582.10" stroke="#111" stroke-width="1.05"/>
<line x1="171.05" y1="582.50" x2="175.25" y2="582.50" stroke="#111" stroke-width="1.05"/>
<text x="173.15" y="576.10" font-size="8.5" font-weight="normal" text-anchor="middle" fill="#1a1a1a" stroke="#1a1a1a" stroke-width="0.15" >a</text>
<text transform="translate(168.38,596.50) rotate(-45)" font-size="9.2" font-weight="bold" text-anchor="end" fill="#111" stroke="#111" stroke-width="0.36">β-Pinene</text>
<text x="180.93" y="580.90" font-size="8.5" font-weight="normal" text-anchor="middle" fill="#1a1a1a" stroke="#1a1a1a" stroke-width="0.15" >c</text>
<text x="186.03" y="580.90" font-size="8.5" font-weight="normal" text-anchor="middle" fill="#1a1a1a" stroke="#1a1a1a" stroke-width="0.15" >c</text>
<rect x="188.90" y="583.40" width="4.45" height="4.30" fill="#7232a4" stroke="#1a1020" stroke-width="0.75"/>
<line x1="191.12" y1="582.30" x2="191.12" y2="583.90" stroke="#111" stroke-width="1.05"/>
<line x1="189.03" y1="582.30" x2="193.22" y2="582.30" stroke="#111" stroke-width="1.05"/>
<line x1="189.03" y1="583.90" x2="193.22" y2="583.90" stroke="#111" stroke-width="1.05"/>
<text x="191.12" y="576.30" font-size="8.5" font-weight="normal" text-anchor="middle" fill="#1a1a1a" stroke="#1a1a1a" stroke-width="0.15" >b</text>
<rect x="194.00" y="582.12" width="4.45" height="5.58" fill="#ffc20a" stroke="#1a1020" stroke-width="0.75"/>
<line x1="196.23" y1="581.22" x2="196.23" y2="582.42" stroke="#111" stroke-width="1.05"/>
<line x1="194.13" y1="581.22" x2="198.33" y2="581.22" stroke="#111" stroke-width="1.05"/>
<line x1="194.13" y1="582.42" x2="198.33" y2="582.42" stroke="#111" stroke-width="1.05"/>
<text x="196.23" y="575.22" font-size="8.5" font-weight="normal" text-anchor="middle" fill="#1a1a1a" stroke="#1a1a1a" stroke-width="0.15" >a</text>
<text transform="translate(191.39,596.50) rotate(-45)" font-size="9.2" font-weight="bold" text-anchor="end" fill="#111" stroke="#111" stroke-width="0.36">β-Myrcene</text>
<text x="204.00" y="580.90" font-size="8.5" font-weight="normal" text-anchor="middle" fill="#1a1a1a" stroke="#1a1a1a" stroke-width="0.15" >c</text>
<text x="209.10" y="580.90" font-size="8.5" font-weight="normal" text-anchor="middle" fill="#1a1a1a" stroke="#1a1a1a" stroke-width="0.15" >c</text>
<rect x="211.98" y="579.04" width="4.45" height="8.66" fill="#7232a4" stroke="#1a1020" stroke-width="0.75"/>
<text x="214.20" y="572.74" font-size="8.5" font-weight="normal" text-anchor="middle" fill="#1a1a1a" stroke="#1a1a1a" stroke-width="0.15" >b</text>
<rect x="217.08" y="571.32" width="4.45" height="16.38" fill="#ffc20a" stroke="#1a1020" stroke-width="0.75"/>
<line x1="219.31" y1="569.02" x2="219.31" y2="573.02" stroke="#111" stroke-width="1.05"/>
<line x1="217.21" y1="569.02" x2="221.41" y2="569.02" stroke="#111" stroke-width="1.05"/>
<line x1="217.21" y1="573.02" x2="221.41" y2="573.02" stroke="#111" stroke-width="1.05"/>
<text x="219.31" y="564.62" font-size="8.5" font-weight="normal" text-anchor="middle" fill="#1a1a1a" stroke="#1a1a1a" stroke-width="0.15" >a</text>
<text transform="translate(214.40,596.50) rotate(-45)" font-size="9.2" font-weight="bold" text-anchor="end" fill="#111" stroke="#111" stroke-width="0.36">β-Phellandrene</text>
<text x="227.09" y="580.90" font-size="8.5" font-weight="normal" text-anchor="middle" fill="#1a1a1a" stroke="#1a1a1a" stroke-width="0.15" >c</text>
<text x="232.19" y="580.90" font-size="8.5" font-weight="normal" text-anchor="middle" fill="#1a1a1a" stroke="#1a1a1a" stroke-width="0.15" >c</text>
<rect x="235.06" y="586.72" width="4.45" height="0.98" fill="#7232a4" stroke="#1a1020" stroke-width="0.75"/>
<text x="237.28" y="580.42" font-size="8.5" font-weight="normal" text-anchor="middle" fill="#1a1a1a" stroke="#1a1a1a" stroke-width="0.15" >b</text>
<rect x="240.16" y="581.32" width="4.45" height="6.38" fill="#ffc20a" stroke="#1a1020" stroke-width="0.75"/>
<line x1="242.39" y1="580.62" x2="242.39" y2="581.42" stroke="#111" stroke-width="1.05"/>
<line x1="240.29" y1="580.62" x2="244.49" y2="580.62" stroke="#111" stroke-width="1.05"/>
<line x1="240.29" y1="581.42" x2="244.49" y2="581.42" stroke="#111" stroke-width="1.05"/>
<text x="242.39" y="574.62" font-size="8.5" font-weight="normal" text-anchor="middle" fill="#1a1a1a" stroke="#1a1a1a" stroke-width="0.15" >a</text>
<text transform="translate(237.41,596.50) rotate(-45)" font-size="9.2" font-weight="bold" text-anchor="end" fill="#111" stroke="#111" stroke-width="0.36">β-Cymene</text>
<text x="250.16" y="580.90" font-size="8.5" font-weight="normal" text-anchor="middle" fill="#1a1a1a" stroke="#1a1a1a" stroke-width="0.15" >c</text>
<text x="255.26" y="580.90" font-size="8.5" font-weight="normal" text-anchor="middle" fill="#1a1a1a" stroke="#1a1a1a" stroke-width="0.15" >c</text>
<rect x="258.14" y="585.44" width="4.45" height="2.26" fill="#7232a4" stroke="#1a1020" stroke-width="0.75"/>
<text x="260.36" y="579.14" font-size="8.5" font-weight="normal" text-anchor="middle" fill="#1a1a1a" stroke="#1a1a1a" stroke-width="0.15" >b</text>
<rect x="263.24" y="582.88" width="4.45" height="4.82" fill="#ffc20a" stroke="#1a1020" stroke-width="0.75"/>
<line x1="265.46" y1="581.38" x2="265.46" y2="583.78" stroke="#111" stroke-width="1.05"/>
<line x1="263.36" y1="581.38" x2="267.56" y2="581.38" stroke="#111" stroke-width="1.05"/>
<line x1="263.36" y1="583.78" x2="267.56" y2="583.78" stroke="#111" stroke-width="1.05"/>
<text x="265.46" y="576.98" font-size="8.5" font-weight="normal" text-anchor="middle" fill="#1a1a1a" stroke="#1a1a1a" stroke-width="0.15" >a</text>
<text transform="translate(260.42,596.50) rotate(-45)" font-size="9.2" font-weight="bold" text-anchor="end" fill="#111" stroke="#111" stroke-width="0.36">D-Limonene</text>
<text x="273.24" y="580.90" font-size="8.5" font-weight="normal" text-anchor="middle" fill="#1a1a1a" stroke="#1a1a1a" stroke-width="0.15" >c</text>
<text x="278.34" y="580.90" font-size="8.5" font-weight="normal" text-anchor="middle" fill="#1a1a1a" stroke="#1a1a1a" stroke-width="0.15" >c</text>
<rect x="281.22" y="558.52" width="4.45" height="29.18" fill="#7232a4" stroke="#1a1020" stroke-width="0.75"/>
<line x1="283.44" y1="555.42" x2="283.44" y2="561.02" stroke="#111" stroke-width="1.05"/>
<line x1="281.34" y1="555.42" x2="285.54" y2="555.42" stroke="#111" stroke-width="1.05"/>
<line x1="281.34" y1="561.02" x2="285.54" y2="561.02" stroke="#111" stroke-width="1.05"/>
<text x="283.44" y="551.82" font-size="8.5" font-weight="normal" text-anchor="middle" fill="#1a1a1a" stroke="#1a1a1a" stroke-width="0.15" >b</text>
<rect x="286.32" y="530.80" width="4.45" height="56.90" fill="#ffc20a" stroke="#1a1020" stroke-width="0.75"/>
<line x1="288.54" y1="526.50" x2="288.54" y2="534.50" stroke="#111" stroke-width="1.05"/>
<line x1="286.44" y1="526.50" x2="290.64" y2="526.50" stroke="#111" stroke-width="1.05"/>
<line x1="286.44" y1="534.50" x2="290.64" y2="534.50" stroke="#111" stroke-width="1.05"/>
<text x="288.54" y="523.80" font-size="8.5" font-weight="normal" text-anchor="middle" fill="#1a1a1a" stroke="#1a1a1a" stroke-width="0.15" >a</text>
<text transform="translate(283.43,596.50) rotate(-45)" font-size="9.2" font-weight="bold" text-anchor="end" fill="#111" stroke="#111" stroke-width="0.36">Eucalyptol</text>
<text x="296.32" y="580.90" font-size="8.5" font-weight="normal" text-anchor="middle" fill="#1a1a1a" stroke="#1a1a1a" stroke-width="0.15" >b</text>
<text x="301.42" y="580.90" font-size="8.5" font-weight="normal" text-anchor="middle" fill="#1a1a1a" stroke="#1a1a1a" stroke-width="0.15" >b</text>
<rect x="304.30" y="581.32" width="4.45" height="6.38" fill="#7232a4" stroke="#1a1020" stroke-width="0.75"/>
<text x="306.52" y="575.02" font-size="8.5" font-weight="normal" text-anchor="middle" fill="#1a1a1a" stroke="#1a1a1a" stroke-width="0.15" >a</text>
<rect x="309.40" y="580.32" width="4.45" height="7.38" fill="#ffc20a" stroke="#1a1020" stroke-width="0.75"/>
<line x1="311.62" y1="579.62" x2="311.62" y2="580.42" stroke="#111" stroke-width="1.05"/>
<line x1="309.52" y1="579.62" x2="313.72" y2="579.62" stroke="#111" stroke-width="1.05"/>
<line x1="309.52" y1="580.42" x2="313.72" y2="580.42" stroke="#111" stroke-width="1.05"/>
<text x="311.62" y="573.62" font-size="8.5" font-weight="normal" text-anchor="middle" fill="#1a1a1a" stroke="#1a1a1a" stroke-width="0.15" >a</text>
<text transform="translate(306.44,596.50) rotate(-45)" font-size="9.2" font-weight="bold" text-anchor="end" fill="#111" stroke="#111" stroke-width="0.36">4-Carene</text>
<text x="319.40" y="580.90" font-size="8.5" font-weight="normal" text-anchor="middle" fill="#1a1a1a" stroke="#1a1a1a" stroke-width="0.15" >a</text>
<text x="324.50" y="580.90" font-size="8.5" font-weight="normal" text-anchor="middle" fill="#1a1a1a" stroke="#1a1a1a" stroke-width="0.15" >a</text>
<text x="329.60" y="580.90" font-size="8.5" font-weight="normal" text-anchor="middle" fill="#1a1a1a" stroke="#1a1a1a" stroke-width="0.15" >a</text>
<text x="334.70" y="580.90" font-size="8.5" font-weight="normal" text-anchor="middle" fill="#1a1a1a" stroke="#1a1a1a" stroke-width="0.15" >a</text>
<text transform="translate(329.45,596.50) rotate(-45)" font-size="9.2" font-weight="bold" text-anchor="end" fill="#111" stroke="#111" stroke-width="0.36">Camphor</text>
<text x="342.48" y="580.90" font-size="8.5" font-weight="normal" text-anchor="middle" fill="#1a1a1a" stroke="#1a1a1a" stroke-width="0.15" >c</text>
<text x="347.58" y="580.90" font-size="8.5" font-weight="normal" text-anchor="middle" fill="#1a1a1a" stroke="#1a1a1a" stroke-width="0.15" >c</text>
<rect x="350.46" y="580.80" width="4.45" height="6.90" fill="#7232a4" stroke="#1a1020" stroke-width="0.75"/>
<line x1="352.68" y1="580.10" x2="352.68" y2="580.90" stroke="#111" stroke-width="1.05"/>
<line x1="350.58" y1="580.10" x2="354.78" y2="580.10" stroke="#111" stroke-width="1.05"/>
<line x1="350.58" y1="580.90" x2="354.78" y2="580.90" stroke="#111" stroke-width="1.05"/>
<text x="352.68" y="574.10" font-size="8.5" font-weight="normal" text-anchor="middle" fill="#1a1a1a" stroke="#1a1a1a" stroke-width="0.15" >a</text>
<rect x="355.56" y="586.00" width="4.45" height="1.70" fill="#ffc20a" stroke="#1a1020" stroke-width="0.75"/>
<line x1="357.78" y1="585.30" x2="357.78" y2="586.10" stroke="#111" stroke-width="1.05"/>
<line x1="355.68" y1="585.30" x2="359.88" y2="585.30" stroke="#111" stroke-width="1.05"/>
<line x1="355.68" y1="586.10" x2="359.88" y2="586.10" stroke="#111" stroke-width="1.05"/>
<text x="357.78" y="579.30" font-size="8.5" font-weight="normal" text-anchor="middle" fill="#1a1a1a" stroke="#1a1a1a" stroke-width="0.15" >b</text>
<text transform="translate(352.46,596.50) rotate(-45)" font-size="9.2" font-weight="bold" text-anchor="end" fill="#111" stroke="#111" stroke-width="0.36">Terpine-4-ol</text>
<text x="365.56" y="580.90" font-size="8.5" font-weight="normal" text-anchor="middle" fill="#1a1a1a" stroke="#1a1a1a" stroke-width="0.15" >b</text>
<text x="370.66" y="580.90" font-size="8.5" font-weight="normal" text-anchor="middle" fill="#1a1a1a" stroke="#1a1a1a" stroke-width="0.15" >b</text>
<text x="375.76" y="580.90" font-size="8.5" font-weight="normal" text-anchor="middle" fill="#1a1a1a" stroke="#1a1a1a" stroke-width="0.15" >b</text>
<rect x="378.64" y="575.68" width="4.45" height="12.02" fill="#ffc20a" stroke="#1a1020" stroke-width="0.75"/>
<line x1="380.86" y1="573.38" x2="380.86" y2="577.38" stroke="#111" stroke-width="1.05"/>
<line x1="378.76" y1="573.38" x2="382.96" y2="573.38" stroke="#111" stroke-width="1.05"/>
<line x1="378.76" y1="577.38" x2="382.96" y2="577.38" stroke="#111" stroke-width="1.05"/>
<text x="380.86" y="568.98" font-size="8.5" font-weight="normal" text-anchor="middle" fill="#1a1a1a" stroke="#1a1a1a" stroke-width="0.15" >a</text>
<text transform="translate(375.47,596.50) rotate(-45)" font-size="9.2" font-weight="bold" text-anchor="end" fill="#111" stroke="#111" stroke-width="0.36">α-Terpineol</text>
<text x="388.64" y="580.90" font-size="8.5" font-weight="normal" text-anchor="middle" fill="#1a1a1a" stroke="#1a1a1a" stroke-width="0.15" >b</text>
<text x="393.75" y="580.90" font-size="8.5" font-weight="normal" text-anchor="middle" fill="#1a1a1a" stroke="#1a1a1a" stroke-width="0.15" >b</text>
<text x="398.84" y="580.90" font-size="8.5" font-weight="normal" text-anchor="middle" fill="#1a1a1a" stroke="#1a1a1a" stroke-width="0.15" >b</text>
<rect x="401.72" y="586.80" width="4.45" height="0.90" fill="#ffc20a" stroke="#1a1020" stroke-width="0.75"/>
<text x="403.94" y="580.50" font-size="8.5" font-weight="normal" text-anchor="middle" fill="#1a1a1a" stroke="#1a1a1a" stroke-width="0.15" >a</text>
<text transform="translate(398.48,596.50) rotate(-45)" font-size="9.2" font-weight="bold" text-anchor="end" fill="#111" stroke="#111" stroke-width="0.36">α-Citral</text>
<text x="411.72" y="580.90" font-size="8.5" font-weight="normal" text-anchor="middle" fill="#1a1a1a" stroke="#1a1a1a" stroke-width="0.15" >a</text>
<text x="416.82" y="580.90" font-size="8.5" font-weight="normal" text-anchor="middle" fill="#1a1a1a" stroke="#1a1a1a" stroke-width="0.15" >a</text>
<text x="421.92" y="580.90" font-size="8.5" font-weight="normal" text-anchor="middle" fill="#1a1a1a" stroke="#1a1a1a" stroke-width="0.15" >a</text>
<text x="427.02" y="580.90" font-size="8.5" font-weight="normal" text-anchor="middle" fill="#1a1a1a" stroke="#1a1a1a" stroke-width="0.15" >a</text>
<text transform="translate(421.49,596.50) rotate(-45)" font-size="9.2" font-weight="bold" text-anchor="end" fill="#111" stroke="#111" stroke-width="0.36">Bornyl acetate</text>
<text x="434.80" y="580.90" font-size="8.5" font-weight="normal" text-anchor="middle" fill="#1a1a1a" stroke="#1a1a1a" stroke-width="0.15" >a</text>
<text x="439.90" y="580.90" font-size="8.5" font-weight="normal" text-anchor="middle" fill="#1a1a1a" stroke="#1a1a1a" stroke-width="0.15" >a</text>
<text x="445.00" y="580.90" font-size="8.5" font-weight="normal" text-anchor="middle" fill="#1a1a1a" stroke="#1a1a1a" stroke-width="0.15" >a</text>
<text x="450.10" y="580.90" font-size="8.5" font-weight="normal" text-anchor="middle" fill="#1a1a1a" stroke="#1a1a1a" stroke-width="0.15" >a</text>
<text transform="translate(444.50,596.50) rotate(-45)" font-size="9.2" font-weight="bold" text-anchor="end" fill="#111" stroke="#111" stroke-width="0.36">Caryophyllene</text>
<text x="457.88" y="580.90" font-size="8.5" font-weight="normal" text-anchor="middle" fill="#1a1a1a" stroke="#1a1a1a" stroke-width="0.15" >b</text>
<text x="462.98" y="580.90" font-size="8.5" font-weight="normal" text-anchor="middle" fill="#1a1a1a" stroke="#1a1a1a" stroke-width="0.15" >b</text>
<rect x="465.86" y="574.40" width="4.45" height="13.30" fill="#7232a4" stroke="#1a1020" stroke-width="0.75"/>
<line x1="468.08" y1="573.70" x2="468.08" y2="574.50" stroke="#111" stroke-width="1.05"/>
<line x1="465.98" y1="573.70" x2="470.18" y2="573.70" stroke="#111" stroke-width="1.05"/>
<line x1="465.98" y1="574.50" x2="470.18" y2="574.50" stroke="#111" stroke-width="1.05"/>
<text x="468.08" y="567.70" font-size="8.5" font-weight="normal" text-anchor="middle" fill="#1a1a1a" stroke="#1a1a1a" stroke-width="0.15" >a</text>
<rect x="470.96" y="577.48" width="4.45" height="10.22" fill="#ffc20a" stroke="#1a1020" stroke-width="0.75"/>
<text x="473.18" y="571.18" font-size="8.5" font-weight="normal" text-anchor="middle" fill="#1a1a1a" stroke="#1a1a1a" stroke-width="0.15" >a</text>
<text transform="translate(467.51,596.50) rotate(-45)" font-size="9.2" font-weight="bold" text-anchor="end" fill="#111" stroke="#111" stroke-width="0.36">Germacrene D</text>
<text x="480.96" y="580.90" font-size="8.5" font-weight="normal" text-anchor="middle" fill="#1a1a1a" stroke="#1a1a1a" stroke-width="0.15" >c</text>
<text x="486.06" y="580.90" font-size="8.5" font-weight="normal" text-anchor="middle" fill="#1a1a1a" stroke="#1a1a1a" stroke-width="0.15" >c</text>
<rect x="488.94" y="520.40" width="4.45" height="67.30" fill="#7232a4" stroke="#1a1020" stroke-width="0.75"/>
<line x1="491.16" y1="515.30" x2="491.16" y2="524.90" stroke="#111" stroke-width="1.05"/>
<line x1="489.06" y1="515.30" x2="493.26" y2="515.30" stroke="#111" stroke-width="1.05"/>
<line x1="489.06" y1="524.90" x2="493.26" y2="524.90" stroke="#111" stroke-width="1.05"/>
<text x="491.16" y="513.30" font-size="8.5" font-weight="normal" text-anchor="middle" fill="#1a1a1a" stroke="#1a1a1a" stroke-width="0.15" >a</text>
<rect x="494.04" y="551.20" width="4.45" height="36.50" fill="#ffc20a" stroke="#1a1020" stroke-width="0.75"/>
<line x1="496.26" y1="546.90" x2="496.26" y2="554.90" stroke="#111" stroke-width="1.05"/>
<line x1="494.16" y1="546.90" x2="498.36" y2="546.90" stroke="#111" stroke-width="1.05"/>
<line x1="494.16" y1="554.90" x2="498.36" y2="554.90" stroke="#111" stroke-width="1.05"/>
<text x="496.26" y="545.10" font-size="8.5" font-weight="normal" text-anchor="middle" fill="#1a1a1a" stroke="#1a1a1a" stroke-width="0.15" >b</text>
<text transform="translate(490.52,596.50) rotate(-45)" font-size="9.2" font-weight="bold" text-anchor="end" fill="#111" stroke="#111" stroke-width="0.36">Germacrene B</text>
<text x="504.04" y="580.90" font-size="8.5" font-weight="normal" text-anchor="middle" fill="#1a1a1a" stroke="#1a1a1a" stroke-width="0.15" >b</text>
<text x="509.14" y="580.90" font-size="8.5" font-weight="normal" text-anchor="middle" fill="#1a1a1a" stroke="#1a1a1a" stroke-width="0.15" >b</text>
<rect x="512.02" y="578.24" width="4.45" height="9.46" fill="#7232a4" stroke="#1a1020" stroke-width="0.75"/>
<line x1="514.25" y1="576.74" x2="514.25" y2="579.14" stroke="#111" stroke-width="1.05"/>
<line x1="512.14" y1="576.74" x2="516.35" y2="576.74" stroke="#111" stroke-width="1.05"/>
<line x1="512.14" y1="579.14" x2="516.35" y2="579.14" stroke="#111" stroke-width="1.05"/>
<text x="514.25" y="572.34" font-size="8.5" font-weight="normal" text-anchor="middle" fill="#1a1a1a" stroke="#1a1a1a" stroke-width="0.15" >a</text>
<rect x="517.12" y="578.24" width="4.45" height="9.46" fill="#ffc20a" stroke="#1a1020" stroke-width="0.75"/>
<line x1="519.34" y1="576.34" x2="519.34" y2="579.54" stroke="#111" stroke-width="1.05"/>
<line x1="517.24" y1="576.34" x2="521.44" y2="576.34" stroke="#111" stroke-width="1.05"/>
<line x1="517.24" y1="579.54" x2="521.44" y2="579.54" stroke="#111" stroke-width="1.05"/>
<text x="519.34" y="571.94" font-size="8.5" font-weight="normal" text-anchor="middle" fill="#1a1a1a" stroke="#1a1a1a" stroke-width="0.15" >a</text>
<text transform="translate(513.53,596.50) rotate(-45)" font-size="9.2" font-weight="bold" text-anchor="end" fill="#111" stroke="#111" stroke-width="0.36">Guaiol</text>
<text x="527.12" y="580.90" font-size="8.5" font-weight="normal" text-anchor="middle" fill="#1a1a1a" stroke="#1a1a1a" stroke-width="0.15" >b</text>
<text x="532.22" y="580.90" font-size="8.5" font-weight="normal" text-anchor="middle" fill="#1a1a1a" stroke="#1a1a1a" stroke-width="0.15" >b</text>
<rect x="535.10" y="583.64" width="4.45" height="4.06" fill="#7232a4" stroke="#1a1020" stroke-width="0.75"/>
<text x="537.32" y="577.34" font-size="8.5" font-weight="normal" text-anchor="middle" fill="#1a1a1a" stroke="#1a1a1a" stroke-width="0.15" >a</text>
<rect x="540.20" y="583.20" width="4.45" height="4.50" fill="#ffc20a" stroke="#1a1020" stroke-width="0.75"/>
<text x="542.42" y="576.90" font-size="8.5" font-weight="normal" text-anchor="middle" fill="#1a1a1a" stroke="#1a1a1a" stroke-width="0.15" >a</text>
<text transform="translate(536.54,596.50) rotate(-45)" font-size="9.2" font-weight="bold" text-anchor="end" fill="#111" stroke="#111" stroke-width="0.36">Bulnesol</text>
<rect x="409.50" y="490.40" width="4.40" height="4.40" fill="#e8141c" stroke="#1a1020" stroke-width="1.0"/>
<text x="416.30" y="495.60" font-size="9.2" font-weight="bold" text-anchor="start" fill="#111" stroke="#111" stroke-width="0.36" >S1</text>
<rect x="444.80" y="490.40" width="4.40" height="4.40" fill="#00a651" stroke="#1a1020" stroke-width="1.0"/>
<text x="451.40" y="495.60" font-size="9.2" font-weight="bold" text-anchor="start" fill="#111" stroke="#111" stroke-width="0.36" >S2</text>
<rect x="479.60" y="490.40" width="4.40" height="4.40" fill="#7232a4" stroke="#1a1020" stroke-width="1.0"/>
<text x="486.00" y="495.60" font-size="9.2" font-weight="bold" text-anchor="start" fill="#111" stroke="#111" stroke-width="0.36" >S3</text>
<rect x="514.10" y="490.40" width="4.40" height="4.40" fill="#ffc20a" stroke="#1a1020" stroke-width="1.0"/>
<text x="520.60" y="495.60" font-size="9.2" font-weight="bold" text-anchor="start" fill="#111" stroke="#111" stroke-width="0.36" >S4</text>
</svg></body></html>
